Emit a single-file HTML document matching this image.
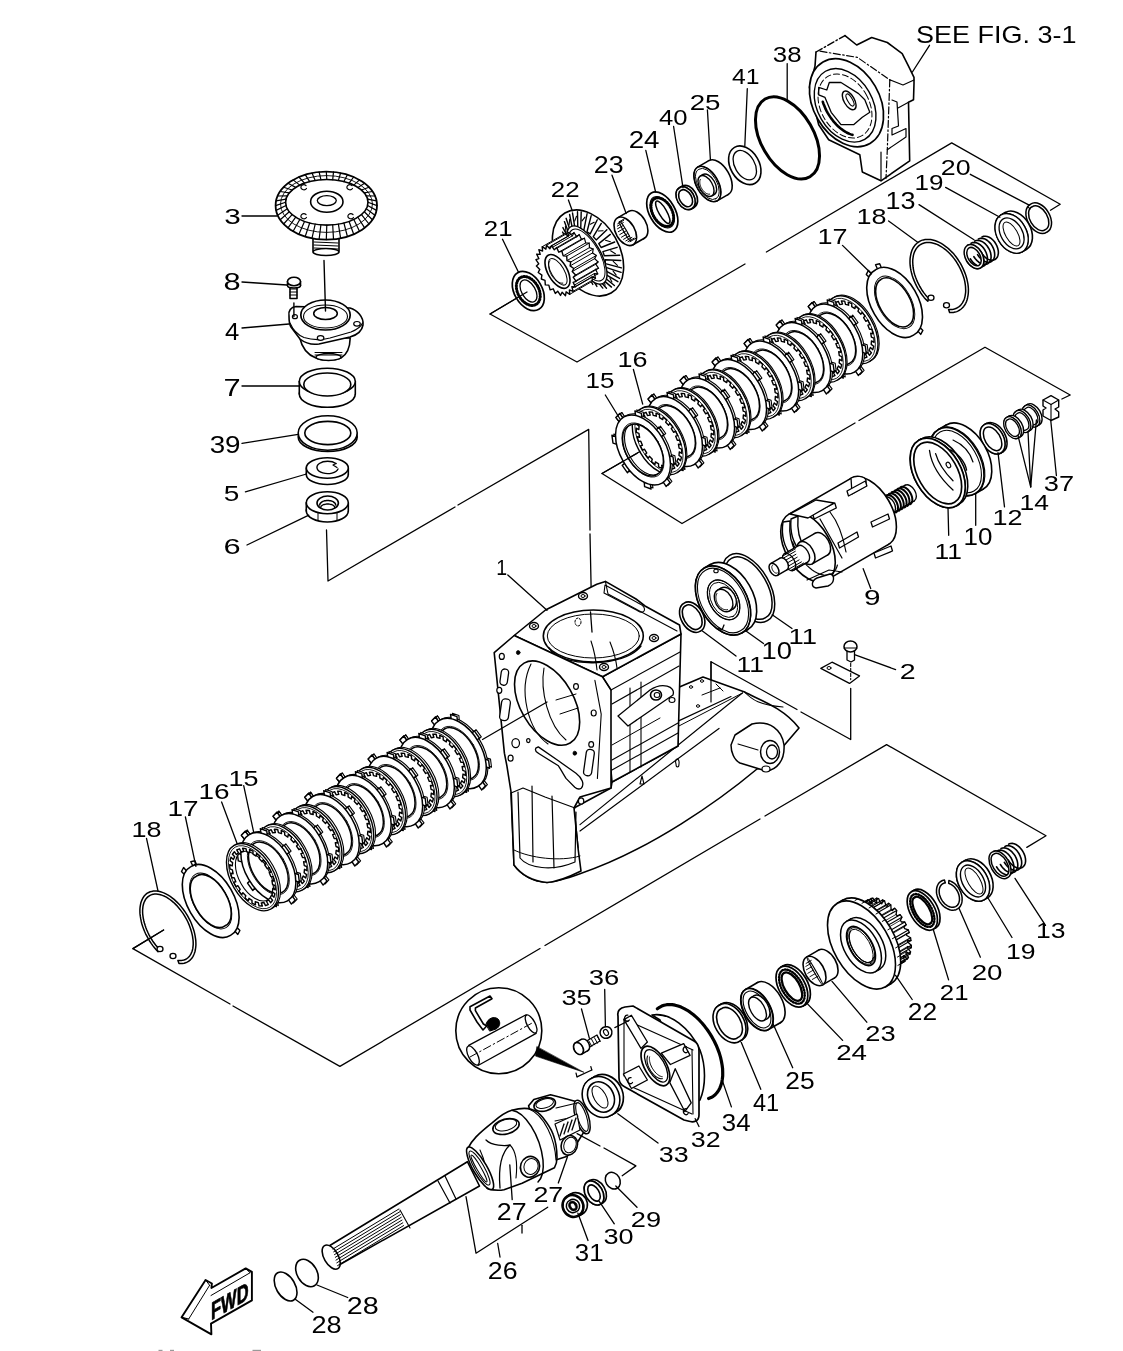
<!DOCTYPE html>
<html><head><meta charset="utf-8"><style>
html,body{margin:0;padding:0;background:#fff;width:1123px;height:1351px;overflow:hidden}
svg{display:block;will-change:transform}
text{font-family:"Liberation Sans",sans-serif;font-size:22px;fill:#000}
</style></head><body>
<svg width="1123" height="1351" viewBox="0 0 1123 1351">
<g fill="none" stroke="#000" stroke-width="1.6" stroke-linejoin="round" stroke-linecap="round">
<g stroke-width="1.3">
<polyline points="326.5,530 328,581 455,507"/>
<polyline points="458,505 588.7,429.4 590,530"/>
<polyline points="590,534 592,630"/>
<polyline points="527,292 490,314 577,362 745,264"/>
<polyline points="766.4,252 951.7,142.9 1060.2,204.3 1050.5,210.2"/>
<polyline points="637.4,453 602,473.5 682,523.5 855,423"/>
<polyline points="859,420.5 985,347.2 1070.2,395 1061.9,399"/>
<polyline points="850.7,688.3 850.7,739.5 801,712"/>
<polyline points="797,709.5 711,661.7 711,702"/>
<polyline points="163.6,930 132.9,948.6 230,1004"/>
<polyline points="233,1006 339.9,1066.4 540,948.5"/>
<polyline points="545,945.5 760,819"/>
<polyline points="765,816 886.6,744.6 1046,835.7 1026.8,847.4"/>
</g>
<polygon points="313,238 339,238 339,251 313,251" fill="#fff"/>
<ellipse cx="326" cy="252" rx="13" ry="3.5" fill="#fff"/>
<polyline points="314,242 338,243" stroke-width="1"/>
<polyline points="314,245 338,246" stroke-width="1"/>
<polyline points="314,248 338,249" stroke-width="1"/>
<ellipse cx="326.3" cy="205.6" rx="50.7" ry="34" fill="#fff" stroke-width="1.8"/>
<ellipse cx="326.8" cy="202.3" rx="41.2" ry="22.8" fill="#fff" stroke-width="1.6"/>
<polyline points="368,202.3 377,205.6" stroke-width="1.2"/>
<polyline points="367.6,205.5 376.5,210.4" stroke-width="1.2"/>
<polyline points="366.3,208.7 374.9,215.2" stroke-width="1.2"/>
<polyline points="364.3,211.8 372.4,219.7" stroke-width="1.2"/>
<polyline points="361.5,214.6 369,224" stroke-width="1.2"/>
<polyline points="357.9,217.2 364.6,227.9" stroke-width="1.2"/>
<polyline points="353.8,219.5 359.5,231.3" stroke-width="1.2"/>
<polyline points="349.1,221.5 353.7,234.2" stroke-width="1.2"/>
<polyline points="343.9,223 347.4,236.5" stroke-width="1.2"/>
<polyline points="338.4,224.2 340.6,238.2" stroke-width="1.2"/>
<polyline points="332.7,224.9 333.5,239.3" stroke-width="1.2"/>
<polyline points="326.8,225.1 326.3,239.6" stroke-width="1.2"/>
<polyline points="320.9,224.9 319.1,239.3" stroke-width="1.2"/>
<polyline points="315.2,224.2 312,238.2" stroke-width="1.2"/>
<polyline points="309.7,223 305.2,236.5" stroke-width="1.2"/>
<polyline points="304.5,221.5 298.9,234.2" stroke-width="1.2"/>
<polyline points="299.8,219.5 293.1,231.3" stroke-width="1.2"/>
<polyline points="295.7,217.2 288,227.9" stroke-width="1.2"/>
<polyline points="292.1,214.6 283.6,224" stroke-width="1.2"/>
<polyline points="289.3,211.8 280.2,219.7" stroke-width="1.2"/>
<polyline points="287.3,208.7 277.7,215.2" stroke-width="1.2"/>
<polyline points="286,205.5 276.1,210.4" stroke-width="1.2"/>
<polyline points="285.6,202.3 275.6,205.6" stroke-width="1.2"/>
<polyline points="286,199.1 276.1,200.8" stroke-width="1.2"/>
<polyline points="287.3,195.9 277.7,196" stroke-width="1.2"/>
<polyline points="289.3,192.8 280.2,191.5" stroke-width="1.2"/>
<polyline points="292.1,190 283.6,187.2" stroke-width="1.2"/>
<polyline points="295.7,187.4 288,183.3" stroke-width="1.2"/>
<polyline points="299.8,185.1 293.1,179.9" stroke-width="1.2"/>
<polyline points="304.5,183.1 298.9,177" stroke-width="1.2"/>
<polyline points="309.7,181.6 305.2,174.7" stroke-width="1.2"/>
<polyline points="315.2,180.4 312,173" stroke-width="1.2"/>
<polyline points="320.9,179.7 319.1,171.9" stroke-width="1.2"/>
<polyline points="326.8,179.5 326.3,171.6" stroke-width="1.2"/>
<polyline points="332.7,179.7 333.5,171.9" stroke-width="1.2"/>
<polyline points="338.4,180.4 340.6,173" stroke-width="1.2"/>
<polyline points="343.9,181.6 347.4,174.7" stroke-width="1.2"/>
<polyline points="349.1,183.1 353.7,177" stroke-width="1.2"/>
<polyline points="353.8,185.1 359.5,179.9" stroke-width="1.2"/>
<polyline points="357.9,187.4 364.6,183.3" stroke-width="1.2"/>
<polyline points="361.5,190 369,187.2" stroke-width="1.2"/>
<polyline points="364.3,192.8 372.4,191.5" stroke-width="1.2"/>
<polyline points="366.3,195.9 374.9,196" stroke-width="1.2"/>
<polyline points="367.6,199.1 376.5,200.8" stroke-width="1.2"/>
<ellipse cx="326.5" cy="204" rx="46" ry="28.4" fill="none" stroke-width="0.9"/>
<ellipse cx="326.8" cy="201.7" rx="16.2" ry="10.5" fill="#fff"/>
<ellipse cx="326.8" cy="200.6" rx="9.5" ry="5" fill="#fff" stroke-width="1.3"/>
<path d="M306 185.5 a3 2.5 0 1 0 0.5 3" fill="none" stroke-width="1.2"/>
<path d="M352 185.5 a3 2.5 0 1 0 0.5 3" fill="none" stroke-width="1.2"/>
<path d="M306 214.5 a3 2.5 0 1 0 0.5 3" fill="none" stroke-width="1.2"/>
<path d="M353 214.5 a3 2.5 0 1 0 0.5 3" fill="none" stroke-width="1.2"/>
<polygon points="290,286 297,286 297,298.5 290,298.5" fill="#fff"/>
<polyline points="290,289 297,289" stroke-width="1"/>
<polyline points="290,292 297,292" stroke-width="1"/>
<polyline points="290,295 297,295" stroke-width="1"/>
<polygon points="287.5,281.5 287.5,285.5 300.5,285.5 300.5,281.5" fill="#fff"/>
<ellipse cx="294" cy="285.5" rx="6.5" ry="2.5" fill="#fff"/>
<ellipse cx="294" cy="281.5" rx="6.5" ry="4.2" fill="#fff"/>
<path d="M299.8 338 C302 348 308 355 316 358 C322 361 334 361 341 358 C348 354 350 346 350.2 338 Z" fill="#fff" stroke-width="1.6"/>
<ellipse cx="328.5" cy="357" rx="12.5" ry="3.5" fill="#fff" stroke-width="1.3"/>
<polyline points="315,352.5 342,352.5" stroke-width="1.0"/>
<polyline points="315,355 342,355" stroke-width="1.0"/>
<path d="M289 316 C288 311 291 307 296 306.5 L350 308 C357 310 364 317 363 325 C362 331 357 335 350 337 L319 344 C312 345 305 343 300 339 L291 327 C289 324 289 320 289 316 Z" fill="#fff" stroke-width="1.6"/>
<path d="M290 323 C293 330 298 335 304 337.5 C312 340 322 340 330 338 L351 332 C356 330 361 327 362.5 323" fill="none" stroke-width="1.1"/>
<ellipse cx="325.5" cy="315" rx="24.7" ry="15" fill="#fff" stroke-width="1.7"/>
<ellipse cx="325.5" cy="316.5" rx="22" ry="11.5" fill="#fff" stroke-width="1.1"/>
<ellipse cx="325.5" cy="313.5" rx="11.8" ry="6" fill="#fff" stroke-width="1.5"/>
<ellipse cx="320.6" cy="338" rx="3.3" ry="2.3" fill="#fff" stroke-width="1.2"/>
<ellipse cx="357" cy="323.8" rx="3.3" ry="2.3" fill="#fff" stroke-width="1.2"/>
<ellipse cx="294.9" cy="316.7" rx="2.5" ry="2" fill="#fff" stroke-width="1.2"/>
<polyline points="324,260.4 325.5,311" stroke-width="1.4"/>
<polyline points="293.9,303 293.9,316.5" stroke-width="1.4"/>
<ellipse cx="327.3" cy="394" rx="28" ry="13.3" fill="#fff"/>
<polygon points="299.3,381.5 355.3,381.5 355.3,394 299.3,394" fill="#fff" stroke="none"/>
<polyline points="299.3,381.5 299.3,394"/>
<polyline points="355.3,381.5 355.3,394"/>
<ellipse cx="327.3" cy="381.5" rx="28" ry="13.3" fill="#fff"/>
<ellipse cx="327.3" cy="384.5" rx="23.5" ry="11.5" fill="#fff"/>
<ellipse cx="327.7" cy="437" rx="29.5" ry="14.5" fill="#fff"/>
<ellipse cx="327.7" cy="433" rx="29.5" ry="17.2" fill="#fff"/>
<ellipse cx="327.8" cy="433" rx="23" ry="11.6" fill="#fff"/>
<ellipse cx="327.3" cy="474.5" rx="21" ry="10" fill="#fff"/>
<polygon points="306.3,468 348.3,468 348.3,474.5 306.3,474.5" fill="#fff" stroke="none"/>
<polyline points="306.3,468 306.3,474.5"/>
<polyline points="348.3,468 348.3,474.5"/>
<ellipse cx="327.3" cy="468" rx="21" ry="10.2" fill="#fff"/>
<path d="M336 463.5 A10.7 6.2 0 1 0 338 469" fill="none" stroke-width="1.4"/>
<polyline points="336,463.5 333,465 337,467.5" stroke-width="1.2"/>
<ellipse cx="327.3" cy="511" rx="21" ry="11" fill="#fff"/>
<polygon points="306.3,502.8 348.3,502.8 348.3,511 306.3,511" fill="#fff" stroke="none"/>
<polyline points="306.3,502.8 306.3,511"/>
<polyline points="348.3,502.8 348.3,511"/>
<polyline points="318,511 318,520" stroke-width="1"/>
<polyline points="337,511 337,520" stroke-width="1"/>
<ellipse cx="327.3" cy="502.8" rx="21" ry="11" fill="#fff"/>
<ellipse cx="327.7" cy="503" rx="10.7" ry="7" fill="#fff"/>
<polyline points="319.7,505 319.8,504.4 320,503.8 320.3,503.3 320.8,502.8 321.4,502.3 322,501.8 322.8,501.4 323.7,501.1 324.6,500.8 325.6,500.7 326.7,500.5 327.7,500.5 328.7,500.5 329.8,500.7 330.8,500.8 331.7,501.1 332.6,501.4 333.4,501.8 334,502.3 334.6,502.8 335.1,503.3 335.4,503.8 335.6,504.4 335.7,505" stroke-width="1.5"/>
<polyline points="320.7,507.5 320.8,507 320.9,506.6 321.2,506.2 321.6,505.8 322.1,505.4 322.8,505 323.4,504.7 324.2,504.5 325,504.3 325.9,504.1 326.8,504 327.7,504 328.6,504 329.5,504.1 330.4,504.3 331.2,504.5 332,504.7 332.6,505 333.3,505.4 333.8,505.8 334.2,506.2 334.5,506.6 334.6,507 334.7,507.5" stroke-width="1.3"/>
<polygon points="816,52 845,35.6 856.7,45 871.7,37.5 887.3,42.5 902.2,53.7 908.5,66.1 914,77.4 914,83.6 913.5,99.8 908.5,102.3 909.7,160.9 881,180.8 862.3,172 859.8,154.7 828.7,139.7 818.7,124.7 809.4,87.3 815,66.1" fill="#fff" stroke="none"/>
<polyline points="816,52 845,35.6" stroke-width="1.4" stroke-dasharray="7 2.5 1.5 2.5"/>
<polyline points="845,35.6 856.7,45 871.7,37.5 887.3,42.5 902.2,53.7 908.5,66.1 914,77.4 914,83.6 913.5,99.8 908.5,102.3 909.7,160.9 881,180.8 862.3,172 859.8,154.7 828.7,139.7 818.7,124.7 809.4,87.3 815,66.1 816,52" stroke-width="1.6"/>
<polyline points="820,51.2 857.4,57.4 889.8,79.9" stroke-width="1.2" stroke-dasharray="7 2.5 1.5 2.5"/>
<polyline points="889.8,79.9 903,85 914,80" stroke-width="1.2"/>
<polyline points="889.8,79.9 887.3,149.7 886,178.3" stroke-width="1.2" stroke-dasharray="7 2.5 1.5 2.5"/>
<polyline points="908.5,102.3 898,108" stroke-width="1.1"/>
<polyline points="892,100 897,102 898.5,126 892,128.5 892,135 906,128.5 906,137 887.3,149.7" stroke-width="1.2"/>
<polyline points="881,152 881,180.8" stroke-width="1.2"/>
<ellipse cx="846.5" cy="102.7" rx="33.1" ry="47" transform="rotate(-30 846.5 102.7)" fill="#fff" stroke-width="1.7"/>
<ellipse cx="845.1" cy="105.3" rx="27.5" ry="39.3" transform="rotate(-30 845.1 105.3)" fill="#fff" stroke-width="1.4"/>
<ellipse cx="845" cy="106" rx="24.1" ry="34.2" transform="rotate(-30 845 106)" fill="none" stroke-width="1.0" stroke-dasharray="6 3"/>
<path d="M818.7 87.3 L826.8 90 L829.3 82.5 L841 82.5 L858.6 93.6 L864.8 99.8 L869.8 112.3 L862.3 117.3 L853.6 124.7 L841 124.7 L831.2 112.3 L825 97.4 L818.7 94.9 Z" fill="none" stroke-width="1.3"/>
<ellipse cx="849.2" cy="100.4" rx="5.2" ry="10.4" transform="rotate(-30 849.2 100.4)" fill="#fff" stroke-width="1.4"/>
<ellipse cx="850" cy="100" rx="2.4" ry="6.8" transform="rotate(-30 850 100)" fill="#fff" stroke-width="1.1"/>
<polyline points="852.5,134.8 851,134.4 849.6,133.9 848.1,133.2 846.6,132.5 845.1,131.6 843.6,130.7 842.2,129.6 840.7,128.5 839.2,127.3 837.8,126 836.4,124.6 835.1,123.1 833.7,121.6 832.5,120 831.2,118.4 830,116.6 828.9,114.9 827.8,113.1 826.8,111.3 825.8,109.4 825,107.5 824.2,105.6 823.4,103.7 822.8,101.8" stroke-width="2.6"/>
<ellipse cx="787.5" cy="137.9" rx="26.4" ry="44.9" transform="rotate(-30 787.5 137.9)" fill="#fff" stroke-width="3"/>
<ellipse cx="744.8" cy="165.3" rx="14.4" ry="20.7" transform="rotate(-30 744.8 165.3)" fill="#fff" stroke-width="1.6"/>
<ellipse cx="744.8" cy="165.2" rx="9.9" ry="16" transform="rotate(-30 744.8 165.2)" fill="#fff" stroke-width="1.3"/>
<ellipse cx="718.7" cy="177.5" rx="10.8" ry="19.5" transform="rotate(-30 718.7 177.5)" fill="#fff" stroke-width="1.6"/>
<polygon points="717.1,200.9 728.4,194.4 708.9,160.6 697.6,167.1" fill="#fff" stroke="none"/>
<polyline points="717.1,200.9 728.4,194.4" stroke-width="1.6"/>
<polyline points="697.6,167.1 708.9,160.6" stroke-width="1.6"/>
<ellipse cx="707.4" cy="184" rx="10.8" ry="19.5" transform="rotate(-30 707.4 184)" fill="#fff" stroke-width="1.6"/>
<path d="M717.1 200.9 A10.8 19.5 -30 1 0 697.6 167.1 A10.8 19.5 -30 1 0 717.1 200.9 Z M715.9 198.7 A9 17 -30 1 0 698.9 169.3 A9 17 -30 1 0 715.9 198.7 Z" fill="none" fill-rule="evenodd" stroke-width="1.0"/>
<ellipse cx="708.6" cy="184.5" rx="6.5" ry="11.5" transform="rotate(-30 708.6 184.5)" fill="#fff" stroke-width="1.4"/>
<polygon points="711.8,196 714.3,194.5 702.8,174.5 700.2,176" fill="#fff" stroke="none"/>
<polyline points="711.8,196 714.3,194.5" stroke-width="1.4"/>
<polyline points="700.2,176 702.8,174.5" stroke-width="1.4"/>
<ellipse cx="706" cy="186" rx="6.5" ry="11.5" transform="rotate(-30 706 186)" fill="#fff" stroke-width="1.4"/>
<polyline points="709.7,194.1 709.1,194.2 708.5,194.2 707.9,194 707.2,193.8 706.5,193.5 705.8,193.1 705.2,192.6 704.5,192.1 703.8,191.4 703.2,190.7 702.6,190 702.1,189.2 701.6,188.3 701.1,187.5 700.7,186.6 700.4,185.7 700.1,184.8 699.9,183.9 699.8,183.1 699.8,182.3 699.8,181.5 699.9,180.8 700,180.1 700.3,179.5" stroke-width="1.0"/>
<ellipse cx="688.2" cy="196.7" rx="8.3" ry="12.1" transform="rotate(-30 688.2 196.7)" fill="#fff" stroke-width="1.7"/>
<polygon points="691.6,208.7 694.2,207.2 682.2,186.2 679.6,187.7" fill="#fff" stroke="none"/>
<polyline points="691.6,208.7 694.2,207.2" stroke-width="1.7"/>
<polyline points="679.6,187.7 682.2,186.2" stroke-width="1.7"/>
<ellipse cx="685.6" cy="198.2" rx="8.3" ry="12.1" transform="rotate(-30 685.6 198.2)" fill="#fff" stroke-width="1.7"/>
<path d="M691.6 208.7 A8.3 12.1 -30 1 0 679.6 187.7 A8.3 12.1 -30 1 0 691.6 208.7 Z M690.1 206.1 A5.8 9.1 -30 1 0 681.1 190.3 A5.8 9.1 -30 1 0 690.1 206.1 Z" fill="#fff" fill-rule="evenodd" stroke-width="1.6"/>
<ellipse cx="662.3" cy="212.1" rx="12.8" ry="22" transform="rotate(-30 662.3 212.1)" fill="#fff" stroke-width="1.7"/>
<ellipse cx="662.2" cy="212.2" rx="10.1" ry="17.2" transform="rotate(-30 662.2 212.2)" fill="#fff" stroke-width="1.0"/>
<ellipse cx="662.8" cy="212.2" rx="3.9" ry="12.7" transform="rotate(-30 662.8 212.2)" fill="#fff" stroke-width="1.5"/>
<ellipse cx="662.3" cy="212.1" rx="9.5" ry="15.5" transform="rotate(-30 662.3 212.1)" fill="none" stroke-width="3" stroke-dasharray="0.9 1.8"/>
<ellipse cx="636.6" cy="224.8" rx="9.5" ry="15.5" transform="rotate(-30 636.6 224.8)" fill="#fff" stroke-width="1.6"/>
<polygon points="633,244.7 644.3,238.2 628.8,211.4 617.5,217.9" fill="#fff" stroke="none"/>
<polyline points="633,244.7 644.3,238.2" stroke-width="1.6"/>
<polyline points="617.5,217.9 628.8,211.4" stroke-width="1.6"/>
<ellipse cx="625.3" cy="231.3" rx="9.5" ry="15.5" transform="rotate(-30 625.3 231.3)" fill="#fff" stroke-width="1.6"/>
<ellipse cx="625.2" cy="231.2" rx="1.4" ry="11.2" transform="rotate(-30 625.2 231.2)" fill="#fff" stroke-width="1.2"/>
<polyline points="630,241.7 636,238.2" stroke-width="1.0"/>
<polyline points="628,241.7 634.1,238.2" stroke-width="1.0"/>
<polyline points="625.8,240.9 631.9,237.4" stroke-width="1.0"/>
<polyline points="623.6,239.3 629.6,235.8" stroke-width="1.0"/>
<polyline points="621.5,237.2 627.5,233.7" stroke-width="1.0"/>
<polyline points="619.7,234.6 625.7,231.1" stroke-width="1.0"/>
<polyline points="618.3,231.7 624.4,228.2" stroke-width="1.0"/>
<polyline points="617.5,228.8 623.5,225.3" stroke-width="1.0"/>
<polyline points="617.3,226.1 623.3,222.6" stroke-width="1.0"/>
<polyline points="617.7,223.8 623.7,220.3" stroke-width="1.0"/>
<polyline points="618.7,222.1 624.7,218.6" stroke-width="1.0"/>
<ellipse cx="588" cy="253" rx="31.3" ry="46.2" transform="rotate(-30 588 253)" fill="#fff" stroke-width="1.6"/>
<polyline points="610.3,234.4 598.8,243.6 601.1,247.5 614.7,242" stroke-width="1.4"/>
<polyline points="605.5,240.2 610.4,241.7" stroke-width="1.1"/>
<polyline points="617.1,247.3 602.9,251.6 604.3,255.7 619.7,255.2" stroke-width="1.4"/>
<polyline points="610.6,250.8 615.4,253.7" stroke-width="1.1"/>
<polyline points="620.8,260.5 605.1,259.8 605.4,263.6 621.4,267.9" stroke-width="1.4"/>
<polyline points="613.2,261.4 617.4,265.3" stroke-width="1.1"/>
<polyline points="621.1,272.4 605.1,267.1 604.3,270.2 619.6,278.4" stroke-width="1.4"/>
<polyline points="613,270.9 616.2,275.1" stroke-width="1.1"/>
<polyline points="617.9,281.7 602.9,272.8 601.1,274.8 614.4,285.5" stroke-width="1.4"/>
<polyline points="609.9,278 611.9,282.1" stroke-width="1.1"/>
<polyline points="611.5,287.1 598.8,276.1 596.2,276.7 606.5,288.2" stroke-width="1.4"/>
<polyline points="604.3,281.9 605.1,285.2" stroke-width="1.1"/>
<polyline points="602.8,288.1 593.3,276.6 590.2,275.7 596.9,286.4" stroke-width="1.4"/>
<polyline points="597,282.2 596.6,284.2" stroke-width="1.1"/>
<polyline points="592.8,284.4 587,274.2 583.8,272.1 586.7,280.2" stroke-width="1.4"/>
<polyline points="588.7,278.7 587.4,279.1" stroke-width="1.1"/>
<polyline points="582.7,276.6 580.7,269.3 577.8,266.1 577.1,270.3" stroke-width="1.4"/>
<polyline points="580.6,272 578.5,270.6" stroke-width="1.1"/>
<polyline points="573.7,265.6 575.2,262.4 572.9,258.5 569.3,258" stroke-width="1.4"/>
<polyline points="573.5,262.8 571.2,259.7" stroke-width="1.1"/>
<polyline points="566.9,252.7 571.1,254.4 569.7,250.3 564.3,244.8" stroke-width="1.4"/>
<polyline points="568.4,252.2 566.2,247.7" stroke-width="1.1"/>
<polyline points="563.2,239.5 568.9,246.2 568.6,242.4 562.6,232.1" stroke-width="1.4"/>
<polyline points="565.8,241.6 564.2,236.1" stroke-width="1.1"/>
<polyline points="562.9,227.6 568.9,238.9 569.7,235.8 564.4,221.6" stroke-width="1.4"/>
<polyline points="566,232.1 565.4,226.3" stroke-width="1.1"/>
<polyline points="566.1,218.3 571.1,233.2 572.9,231.2 569.6,214.5" stroke-width="1.4"/>
<polyline points="569.1,225 569.7,219.3" stroke-width="1.1"/>
<polyline points="572.5,212.9 575.2,229.9 577.8,229.3 577.5,211.8" stroke-width="1.4"/>
<polyline points="574.7,221.1 576.5,216.2" stroke-width="1.1"/>
<polyline points="581.2,211.9 580.7,229.4 583.8,230.3 587.1,213.6" stroke-width="1.4"/>
<polyline points="582,220.8 585,217.2" stroke-width="1.1"/>
<polyline points="591.2,215.6 587,231.8 590.2,233.9 597.3,219.8" stroke-width="1.4"/>
<polyline points="590.3,224.3 594.2,222.3" stroke-width="1.1"/>
<polyline points="601.3,223.4 593.3,236.7 596.2,239.9 606.9,229.7" stroke-width="1.4"/>
<polyline points="598.4,231 603.1,230.8" stroke-width="1.1"/>
<ellipse cx="587" cy="255" rx="13.4" ry="32.6" transform="rotate(-30 587 255)" fill="#fff" stroke-width="1.4"/>
<ellipse cx="587" cy="255" rx="12.2" ry="29.2" transform="rotate(-30 587 255)" fill="none" stroke-width="1.0"/>
<polygon points="593.2,249 592.6,252.9 596.3,255.5 594.7,258.6 598.1,262 595.8,264.2 598.6,268.3 595.6,269.3 597.8,273.9 594.3,273.6 595.6,278.3 591.9,276.9 592.3,281.3 588.6,278.8 588,282.7 584.6,279.2 583.1,282.4 580.2,278.2 577.8,280.4 575.7,275.8 572.6,276.8 571.3,272.1 567.9,271.9 567.5,267.4 563.8,266 564.4,262.1 560.7,259.5 562.3,256.4 558.9,253 561.3,250.8 558.4,246.7 561.4,245.7 559.2,241.1 562.7,241.4 561.4,236.7 565.1,238.1 564.8,233.7 568.4,236.2 569,232.3 572.4,235.8 574,232.6 576.8,236.8 579.2,234.6 581.4,239.2 584.4,238.2 585.7,242.9 589.2,243.1 589.5,247.6" fill="#fff" stroke-width="1.2"/>
<polygon points="569.8,294.3 592.3,281.3 564.8,233.7 542.2,246.7" fill="#fff" stroke="none"/>
<polyline points="570.7,262 593.2,249" stroke-width="1.0"/>
<polyline points="570.1,265.9 592.6,252.9" stroke-width="1.0"/>
<polyline points="573.8,268.5 596.3,255.5" stroke-width="1.0"/>
<polyline points="572.2,271.6 594.7,258.6" stroke-width="1.0"/>
<polyline points="575.6,275 598.1,262" stroke-width="1.0"/>
<polyline points="573.2,277.2 595.8,264.2" stroke-width="1.0"/>
<polyline points="576.1,281.3 598.6,268.3" stroke-width="1.0"/>
<polyline points="573.1,282.3 595.6,269.3" stroke-width="1.0"/>
<polyline points="575.3,286.9 597.8,273.9" stroke-width="1.0"/>
<polyline points="571.8,286.6 594.3,273.6" stroke-width="1.0"/>
<polyline points="573.1,291.3 595.6,278.3" stroke-width="1.0"/>
<polyline points="569.4,289.9 591.9,276.9" stroke-width="1.0"/>
<polyline points="569.8,294.3 592.3,281.3" stroke-width="1.0"/>
<polyline points="542.2,246.7 564.8,233.7" stroke-width="1.0"/>
<polyline points="545.9,249.2 568.4,236.2" stroke-width="1.0"/>
<polyline points="546.5,245.3 569,232.3" stroke-width="1.0"/>
<polyline points="549.9,248.8 572.4,235.8" stroke-width="1.0"/>
<polyline points="551.5,245.6 574,232.6" stroke-width="1.0"/>
<polyline points="554.3,249.8 576.8,236.8" stroke-width="1.0"/>
<polyline points="556.7,247.6 579.2,234.6" stroke-width="1.0"/>
<polyline points="558.8,252.2 581.4,239.2" stroke-width="1.0"/>
<polyline points="561.9,251.2 584.4,238.2" stroke-width="1.0"/>
<polyline points="563.2,255.9 585.7,242.9" stroke-width="1.0"/>
<polyline points="566.7,256.1 589.2,243.1" stroke-width="1.0"/>
<polyline points="567,260.6 589.5,247.6" stroke-width="1.0"/>
<polygon points="570.7,262 570.1,265.9 573.8,268.5 572.2,271.6 575.6,275 573.2,277.2 576.1,281.3 573.1,282.3 575.3,286.9 571.8,286.6 573.1,291.3 569.4,289.9 569.8,294.3 566.1,291.8 565.5,295.7 562.1,292.2 560.5,295.4 557.7,291.2 555.3,293.4 553.2,288.8 550.1,289.8 548.8,285.1 545.3,284.9 545,280.4 541.3,279 541.9,275.1 538.2,272.5 539.8,269.4 536.4,266 538.8,263.8 535.9,259.7 538.9,258.7 536.7,254.1 540.2,254.4 538.9,249.7 542.6,251.1 542.2,246.7 545.9,249.2 546.5,245.3 549.9,248.8 551.5,245.6 554.3,249.8 556.7,247.6 558.8,252.2 561.9,251.2 563.2,255.9 566.7,256.1 567,260.6" fill="#fff" stroke-width="1.4"/>
<ellipse cx="557.5" cy="271.4" rx="9.6" ry="18.7" transform="rotate(-30 557.5 271.4)" fill="#fff" stroke-width="1.6"/>
<ellipse cx="557.8" cy="271.8" rx="6.4" ry="14.9" transform="rotate(-30 557.8 271.8)" fill="none" stroke-width="1.0"/>
<polyline points="562.8,283.1 562,283.2 561.1,283.1 560.1,282.9 559.1,282.5 558.1,282 557,281.3 556,280.5 555,279.6 554,278.5 553.1,277.4 552.2,276.2 551.4,274.9 550.7,273.6 550.1,272.2 549.6,270.8 549.2,269.5 548.9,268.1 548.7,266.8 548.6,265.6 548.7,264.5 548.8,263.4 549.1,262.4 549.5,261.6 550,260.9" stroke-width="1.0"/>
<ellipse cx="528.3" cy="291" rx="13.9" ry="21.2" transform="rotate(-30 528.3 291)" fill="#fff" stroke-width="1.7"/>
<ellipse cx="528.3" cy="291" rx="10.5" ry="15.5" transform="rotate(-30 528.3 291)" fill="none" stroke-width="3" stroke-dasharray="0.9 1.8"/>
<ellipse cx="528.5" cy="291" rx="6.9" ry="12.1" transform="rotate(-30 528.5 291)" fill="#fff" stroke-width="1.3"/>
<path d="M1046.8 232.2 A10.7 16.2 -30 1 0 1030.6 204.2 A10.7 16.2 -30 1 0 1046.8 232.2 Z M1045.3 229.6 A8.2 13.2 -30 1 0 1032.1 206.8 A8.2 13.2 -30 1 0 1045.3 229.6 Z" fill="#fff" fill-rule="evenodd" stroke-width="1.5"/>
<polyline points="1027.9,206.9 1030.1,208.9" stroke-width="1.2"/>
<ellipse cx="1015.9" cy="230.9" rx="14.7" ry="21.2" transform="rotate(-30 1015.9 230.9)" fill="#fff" stroke-width="1.6"/>
<polygon points="1022.2,251.8 1026.5,249.3 1005.3,212.5 1001,215" fill="#fff" stroke="none"/>
<polyline points="1022.2,251.8 1026.5,249.3" stroke-width="1.6"/>
<polyline points="1001,215 1005.3,212.5" stroke-width="1.6"/>
<ellipse cx="1011.6" cy="233.4" rx="14.7" ry="21.2" transform="rotate(-30 1011.6 233.4)" fill="#fff" stroke-width="1.6"/>
<path d="M1022.2 251.8 A14.7 21.2 -30 1 0 1001 215 A14.7 21.2 -30 1 0 1022.2 251.8 Z M1020 247.9 A10.7 16.7 -30 1 0 1003.2 218.9 A10.7 16.7 -30 1 0 1020 247.9 Z" fill="#fff" fill-rule="evenodd" stroke-width="1.3"/>
<ellipse cx="1011.5" cy="234" rx="6" ry="13.4" transform="rotate(-30 1011.5 234)" fill="none" stroke-width="1"/>
<polyline points="982,236.9 983.6,236.3 985.4,236.2 987.2,236.5 989.2,237.2 991.1,238.4 992.9,240 994.5,241.8 995.9,244 997,246.2 997.8,248.6 998.3,250.9 998.4,253.2 998,255.2 997.4,257 996.4,258.4 995,259.5 993.5,260.1 991.7,260.2 989.9,259.9 987.9,259.2 986,258 984.2,256.4 982.6,254.6 981.2,252.5" stroke-width="1.6"/>
<polyline points="978.4,239 980,238.4 981.7,238.3 983.6,238.6 985.5,239.3 987.4,240.5 989.2,242.1 990.9,243.9 992.3,246.1 993.4,248.3 994.2,250.7 994.6,253 994.7,255.3 994.4,257.3 993.7,259.1 992.7,260.5 991.4,261.6 989.9,262.2 988.1,262.3 986.2,262 984.3,261.3 982.4,260.1 980.6,258.5 979,256.7 977.6,254.6" stroke-width="1.6"/>
<polyline points="974.8,241.1 976.3,240.5 978.1,240.4 980,240.7 981.9,241.4 983.8,242.6 985.6,244.2 987.2,246 988.6,248.2 989.8,250.4 990.6,252.8 991,255.1 991.1,257.4 990.8,259.4 990.1,261.2 989.1,262.6 987.8,263.7 986.2,264.3 984.5,264.4 982.6,264.1 980.7,263.4 978.8,262.2 977,260.6 975.3,258.8 973.9,256.7" stroke-width="1.6"/>
<polyline points="971.1,243.2 972.7,242.6 974.4,242.5 976.3,242.8 978.2,243.5 980.1,244.7 982,246.3 983.6,248.1 985,250.3 986.1,252.5 986.9,254.9 987.4,257.2 987.4,259.5 987.1,261.5 986.5,263.3 985.4,264.7 984.1,265.8 982.6,266.4 980.8,266.5 979,266.2 977,265.5 975.1,264.3 973.3,262.7 971.7,260.9 970.3,258.8" stroke-width="1.6"/>
<polyline points="967.5,245.3 969.1,244.7 970.8,244.6 972.7,244.9 974.6,245.6 976.5,246.8 978.3,248.4 980,250.2 981.4,252.4 982.5,254.6 983.3,257 983.7,259.3 983.8,261.6 983.5,263.6 982.8,265.4 981.8,266.8 980.5,267.9 978.9,268.5 977.2,268.6 975.3,268.3 973.4,267.6 971.5,266.4 969.7,264.8 968,263 966.6,260.9" stroke-width="1.6"/>
<path d="M980.5 267.9 A8.5 13 -30 1 0 967.5 245.3 A8.5 13 -30 1 0 980.5 267.9 Z M979 265.3 A6 10 -30 1 0 969 247.9 A6 10 -30 1 0 979 265.3 Z" fill="#fff" fill-rule="evenodd" stroke-width="1.5"/>
<polygon points="927.8,301.3 925.9,299.4 924.1,297.4 922.4,295.2 920.8,293 919.3,290.7 917.8,288.3 916.5,285.9 915.3,283.4 914.2,280.9 913.2,278.4 912.3,275.8 911.6,273.3 911,270.7 910.5,268.2 910.2,265.7 910,263.3 910,260.9 910.1,258.7 910.4,256.4 910.8,254.3 911.3,252.3 911.9,250.4 912.7,248.7 913.7,247 914.7,245.6 915.9,244.2 917.2,243 918.6,242 920.1,241.1 921.6,240.4 923.3,239.9 925.1,239.6 926.9,239.4 928.8,239.4 930.7,239.6 932.7,240 934.7,240.5 936.7,241.2 938.7,242.1 940.8,243.2 942.8,244.4 944.8,245.8 946.8,247.3 948.7,248.9 950.6,250.7 952.5,252.6 954.3,254.6 956,256.8 957.6,259 959.1,261.3 960.6,263.7 961.9,266.1 963.1,268.6 964.2,271.1 965.2,273.6 966.1,276.2 966.8,278.7 967.4,281.3 967.9,283.8 968.2,286.3 968.4,288.7 968.4,291.1 968.3,293.3 968,295.6 967.6,297.7 967.1,299.7 966.5,301.6 965.7,303.3 964.7,305 963.7,306.4 962.5,307.8 961.2,309 959.8,310 958.3,310.9 956.8,311.6 955.1,312.1 953.3,312.4 951.5,312.6 949.6,312.6 948.6,309.5 950.3,309.6 951.9,309.5 953.5,309.2 955,308.8 956.5,308.2 957.8,307.5 959.1,306.6 960.3,305.6 961.3,304.4 962.3,303.1 963.1,301.6 963.9,300.1 964.5,298.4 965,296.6 965.3,294.7 965.6,292.7 965.7,290.6 965.6,288.5 965.5,286.3 965.2,284 964.8,281.7 964.3,279.4 963.6,277 962.8,274.7 961.9,272.4 960.9,270.1 959.8,267.8 958.6,265.5 957.3,263.3 956,261.2 954.5,259.1 952.9,257.1 951.3,255.2 949.7,253.5 947.9,251.8 946.2,250.2 944.4,248.8 942.5,247.5 940.7,246.3 938.9,245.3 937,244.4 935.2,243.7 933.4,243.2 931.6,242.8 929.8,242.5 928.1,242.4 926.5,242.5 924.9,242.8 923.4,243.2 921.9,243.8 920.6,244.5 919.3,245.4 918.1,246.4 917.1,247.6 916.1,248.9 915.3,250.4 914.5,251.9 913.9,253.6 913.4,255.4 913.1,257.3 912.8,259.3 912.7,261.4 912.8,263.5 912.9,265.7 913.2,268 913.6,270.3 914.1,272.6 914.8,275 915.6,277.3 916.5,279.6 917.5,281.9 918.6,284.2 919.8,286.5 921.1,288.7 922.4,290.8 923.9,292.9 925.5,294.9 927.1,296.8 928.7,298.5" fill="#fff" stroke-width="1.5"/>
<ellipse cx="931" cy="297.7" rx="3" ry="2.6" fill="#fff" stroke-width="1.3"/>
<ellipse cx="946.5" cy="305.2" rx="3" ry="2.6" fill="#fff" stroke-width="1.3"/>
<polygon points="871.8,280.1 866.3,274.4 868.5,270.4 873.7,276.5" fill="#fff" stroke-width="1.4"/>
<polygon points="879.1,272.2 875.5,264.8 879.7,263.8 882.8,271.3" fill="#fff" stroke-width="1.4"/>
<polygon points="917.4,324.7 922.9,330.4 920.7,334.4 915.5,328.3" fill="#fff" stroke-width="1.4"/>
<path d="M913.5 335.1 A22.4 37.8 -30 1 0 875.7 269.7 A22.4 37.8 -30 1 0 913.5 335.1 Z M908 325.6 A15 26.8 -30 1 0 881.2 279.2 A15 26.8 -30 1 0 908 325.6 Z" fill="#fff" fill-rule="evenodd" stroke-width="1.6"/>
<ellipse cx="894.6" cy="302.4" rx="16.4" ry="28.8" transform="rotate(-30 894.6 302.4)" fill="none" stroke-width="0.9"/>
<ellipse cx="853.2" cy="328.6" rx="21.3" ry="36.7" transform="rotate(-30 853.2 328.6)" fill="#fff" stroke-width="1.1"/>
<path d="M869.6 361.5 A21.3 36.7 -30 1 0 832.9 298 A21.3 36.7 -30 1 0 869.6 361.5 Z M867.8 320.2 L870 324.6 L867.9 325.2 L869.5 329.2 L871.8 329.1 L873.1 333.7 L870.7 333.2 L871.4 337.2 L873.9 338.1 L874.1 342.3 L871.5 340.9 L871.2 344.4 L873.7 346.2 L872.8 349.7 L870.4 347.5 L869.1 350.2 L871.4 352.8 L869.4 355.2 L867.4 352.4 L865.3 354 L867 357 L864.3 358.2 L862.8 355 L860.1 355.4 L861.2 358.6 L857.8 358.4 L857.1 355.2 L854 354.3 L854.3 357.4 L850.8 355.8 L850.8 352.9 L847.6 350.9 L847.2 353.5 L843.7 350.6 L844.6 348.3 L841.7 345.3 L840.5 347.2 L837.5 343.4 L839 341.9 L836.6 338.2 L834.8 339.3 L832.5 334.9 L834.6 334.3 L833 330.3 L830.7 330.4 L829.4 325.8 L831.9 326.3 L831.2 322.3 L828.7 321.4 L828.5 317.2 L831 318.6 L831.3 315.1 L828.8 313.3 L829.8 309.8 L832.1 312 L833.4 309.3 L831.2 306.7 L833.1 304.3 L835.2 307.1 L837.3 305.5 L835.5 302.5 L838.3 301.3 L839.7 304.5 L842.5 304.1 L841.4 300.9 L844.7 301.1 L845.5 304.3 L848.6 305.2 L848.2 302.1 L851.8 303.7 L851.7 306.6 L854.9 308.6 L855.4 306 L858.8 308.9 L858 311.2 L860.9 314.2 L862.1 312.3 L865.1 316.1 L863.6 317.6 L865.9 321.3 Z" fill="#fff" fill-rule="evenodd" stroke-width="1.4"/>
<ellipse cx="851.3" cy="329.8" rx="19.3" ry="34.7" transform="rotate(-30 851.3 329.8)" fill="none" stroke-width="0.8"/>
<polygon points="815.6,312.4 810.2,305.5 814.1,301.5 819,308.8" fill="#fff" stroke-width="1.1"/>
<polygon points="830.4,306.8 829.1,298.9 835.6,301.2 836.2,308.8" fill="#fff" stroke-width="1.1"/>
<polygon points="849.3,319.5 852.7,315.1 858,322.5 854,325.9" fill="#fff" stroke-width="1.1"/>
<polygon points="861,342.9 867.2,344.7 868.2,352.7 861.9,350.1" fill="#fff" stroke-width="1.1"/>
<polygon points="858.8,363.4 864.1,370.3 860.2,374.3 855.3,367" fill="#fff" stroke-width="1.1"/>
<polygon points="843.9,369 845.2,376.9 838.7,374.6 838.1,367" fill="#fff" stroke-width="1.1"/>
<polygon points="825.1,356.3 821.6,360.7 816.3,353.3 820.4,349.9" fill="#fff" stroke-width="1.1"/>
<polygon points="813.3,332.9 807.1,331.1 806.1,323.1 812.4,325.7" fill="#fff" stroke-width="1.1"/>
<polygon points="815.6,312.4 810.2,305.5 814.1,301.5 819,308.8" fill="#fff" stroke-width="1.1"/>
<ellipse cx="837.2" cy="337.9" rx="22.8" ry="38.2" transform="rotate(-30 837.2 337.9)" fill="#fff" stroke-width="1.1"/>
<polygon points="813.7,313.5 808.3,306.6 812.2,302.6 817.1,309.9" fill="#fff" stroke-width="1.4"/>
<polygon points="828.5,307.9 827.2,300 833.7,302.3 834.3,309.9" fill="#fff" stroke-width="1.4"/>
<polygon points="847.4,320.6 850.8,316.2 856.1,323.6 852.1,327" fill="#fff" stroke-width="1.4"/>
<polygon points="859.1,344 865.3,345.8 866.3,353.8 860,351.2" fill="#fff" stroke-width="1.4"/>
<polygon points="856.9,364.5 862.2,371.4 858.3,375.4 853.4,368.1" fill="#fff" stroke-width="1.4"/>
<polygon points="842,370.1 843.3,378 836.8,375.7 836.2,368.1" fill="#fff" stroke-width="1.4"/>
<polygon points="823.2,357.4 819.7,361.8 814.4,354.4 818.5,351" fill="#fff" stroke-width="1.4"/>
<polygon points="811.4,334 805.2,332.2 804.2,324.2 810.5,326.8" fill="#fff" stroke-width="1.4"/>
<polygon points="813.7,313.5 808.3,306.6 812.2,302.6 817.1,309.9" fill="#fff" stroke-width="1.4"/>
<path d="M854.4 372.1 A22.8 38.2 -30 1 0 816.2 305.9 A22.8 38.2 -30 1 0 854.4 372.1 Z M849.4 363.4 A16.2 28.2 -30 1 0 821.2 314.6 A16.2 28.2 -30 1 0 849.4 363.4 Z" fill="#fff" fill-rule="evenodd" stroke-width="1.5"/>
<ellipse cx="835.3" cy="339" rx="17.2" ry="29.7" transform="rotate(-30 835.3 339)" fill="none" stroke-width="0.8"/>
<ellipse cx="821.1" cy="347.1" rx="21.3" ry="36.7" transform="rotate(-30 821.1 347.1)" fill="#fff" stroke-width="1.1"/>
<path d="M837.6 380 A21.3 36.7 -30 1 0 800.9 316.5 A21.3 36.7 -30 1 0 837.6 380 Z M835.7 338.7 L838 343.1 L835.9 343.7 L837.5 347.7 L839.8 347.6 L841.1 352.2 L838.7 351.7 L839.3 355.7 L841.8 356.6 L842 360.8 L839.5 359.4 L839.2 362.9 L841.7 364.7 L840.8 368.2 L838.4 366 L837.1 368.7 L839.3 371.3 L837.4 373.7 L835.4 370.9 L833.2 372.5 L835 375.5 L832.2 376.7 L830.8 373.5 L828 373.9 L829.1 377.1 L825.8 376.9 L825.1 373.7 L821.9 372.8 L822.3 375.9 L818.7 374.3 L818.8 371.4 L815.6 369.4 L815.2 372 L811.7 369.1 L812.5 366.8 L809.6 363.8 L808.4 365.7 L805.4 361.9 L806.9 360.4 L804.6 356.7 L802.7 357.8 L800.5 353.4 L802.6 352.8 L801 348.8 L798.7 348.9 L797.4 344.3 L799.8 344.8 L799.1 340.8 L796.6 339.9 L796.4 335.7 L799 337.1 L799.3 333.6 L796.8 331.8 L797.7 328.3 L800.1 330.5 L801.4 327.8 L799.2 325.2 L801.1 322.8 L803.1 325.6 L805.2 324 L803.5 321 L806.3 319.8 L807.7 323 L810.5 322.6 L809.4 319.4 L812.7 319.6 L813.4 322.8 L816.5 323.7 L816.2 320.6 L819.8 322.2 L819.7 325.1 L822.9 327.1 L823.3 324.5 L826.8 327.4 L825.9 329.7 L828.9 332.7 L830.1 330.8 L833.1 334.6 L831.5 336.1 L833.9 339.8 Z" fill="#fff" fill-rule="evenodd" stroke-width="1.4"/>
<ellipse cx="819.2" cy="348.2" rx="19.3" ry="34.7" transform="rotate(-30 819.2 348.2)" fill="none" stroke-width="0.8"/>
<polygon points="783.5,330.9 778.2,324 782,320 786.9,327.3" fill="#fff" stroke-width="1.1"/>
<polygon points="798.4,325.3 797,317.4 803.5,319.7 804.2,327.3" fill="#fff" stroke-width="1.1"/>
<polygon points="817.2,338 820.6,333.6 826,341 821.9,344.4" fill="#fff" stroke-width="1.1"/>
<polygon points="828.9,361.4 835.2,363.2 836.2,371.2 829.9,368.6" fill="#fff" stroke-width="1.1"/>
<polygon points="826.7,381.9 832.1,388.8 828.2,392.8 823.3,385.5" fill="#fff" stroke-width="1.1"/>
<polygon points="811.8,387.5 813.2,395.4 806.7,393.1 806.1,385.5" fill="#fff" stroke-width="1.1"/>
<polygon points="793,374.8 789.6,379.2 784.3,371.8 788.3,368.4" fill="#fff" stroke-width="1.1"/>
<polygon points="781.3,351.4 775.1,349.6 774.1,341.6 780.4,344.2" fill="#fff" stroke-width="1.1"/>
<polygon points="783.5,330.9 778.2,324 782,320 786.9,327.3" fill="#fff" stroke-width="1.1"/>
<ellipse cx="805.1" cy="356.4" rx="22.8" ry="38.2" transform="rotate(-30 805.1 356.4)" fill="#fff" stroke-width="1.1"/>
<polygon points="781.6,332 776.3,325.1 780.1,321.1 785,328.4" fill="#fff" stroke-width="1.4"/>
<polygon points="796.5,326.4 795.1,318.5 801.6,320.8 802.2,328.4" fill="#fff" stroke-width="1.4"/>
<polygon points="815.3,339.1 818.7,334.7 824.1,342.1 820,345.5" fill="#fff" stroke-width="1.4"/>
<polygon points="827,362.5 833.2,364.3 834.3,372.3 827.9,369.7" fill="#fff" stroke-width="1.4"/>
<polygon points="824.8,383 830.2,389.9 826.3,393.9 821.4,386.6" fill="#fff" stroke-width="1.4"/>
<polygon points="809.9,388.6 811.3,396.5 804.8,394.2 804.2,386.6" fill="#fff" stroke-width="1.4"/>
<polygon points="791.1,375.9 787.7,380.3 782.4,372.9 786.4,369.5" fill="#fff" stroke-width="1.4"/>
<polygon points="779.4,352.5 773.2,350.7 772.2,342.7 778.5,345.3" fill="#fff" stroke-width="1.4"/>
<polygon points="781.6,332 776.3,325.1 780.1,321.1 785,328.4" fill="#fff" stroke-width="1.4"/>
<path d="M822.3 390.6 A22.8 38.2 -30 1 0 784.1 324.4 A22.8 38.2 -30 1 0 822.3 390.6 Z M817.3 381.9 A16.2 28.2 -30 1 0 789.1 333.1 A16.2 28.2 -30 1 0 817.3 381.9 Z" fill="#fff" fill-rule="evenodd" stroke-width="1.5"/>
<ellipse cx="803.2" cy="357.5" rx="17.2" ry="29.7" transform="rotate(-30 803.2 357.5)" fill="none" stroke-width="0.8"/>
<ellipse cx="789.1" cy="365.6" rx="21.3" ry="36.7" transform="rotate(-30 789.1 365.6)" fill="#fff" stroke-width="1.1"/>
<path d="M805.5 398.5 A21.3 36.7 -30 1 0 768.8 335 A21.3 36.7 -30 1 0 805.5 398.5 Z M803.7 357.2 L805.9 361.6 L803.9 362.2 L805.5 366.2 L807.7 366.1 L809 370.7 L806.6 370.2 L807.3 374.2 L809.8 375.1 L810 379.3 L807.5 377.9 L807.1 381.4 L809.6 383.2 L808.7 386.7 L806.3 384.5 L805 387.2 L807.3 389.8 L805.3 392.2 L803.3 389.4 L801.2 391 L802.9 394 L800.2 395.2 L798.7 392 L796 392.4 L797.1 395.6 L793.7 395.4 L793 392.2 L789.9 391.3 L790.2 394.4 L786.7 392.8 L786.7 389.9 L783.6 387.9 L783.1 390.5 L779.6 387.6 L780.5 385.3 L777.6 382.3 L776.4 384.2 L773.4 380.4 L774.9 378.9 L772.5 375.2 L770.7 376.3 L768.4 371.9 L770.5 371.3 L768.9 367.3 L766.6 367.4 L765.3 362.8 L767.8 363.3 L767.1 359.3 L764.6 358.4 L764.4 354.2 L766.9 355.6 L767.2 352.1 L764.8 350.3 L765.7 346.8 L768.1 349 L769.3 346.3 L767.1 343.7 L769.1 341.3 L771.1 344.1 L773.2 342.5 L771.4 339.5 L774.2 338.3 L775.7 341.5 L778.4 341.1 L777.3 337.9 L780.6 338.1 L781.4 341.3 L784.5 342.2 L784.1 339.1 L787.7 340.7 L787.7 343.6 L790.8 345.6 L791.3 343 L794.7 345.9 L793.9 348.2 L796.8 351.2 L798 349.3 L801 353.1 L799.5 354.6 L801.9 358.3 Z" fill="#fff" fill-rule="evenodd" stroke-width="1.4"/>
<ellipse cx="787.2" cy="366.8" rx="19.3" ry="34.7" transform="rotate(-30 787.2 366.8)" fill="none" stroke-width="0.8"/>
<polygon points="751.5,349.4 746.1,342.5 750,338.5 754.9,345.8" fill="#fff" stroke-width="1.1"/>
<polygon points="766.4,343.8 765,335.9 771.5,338.2 772.1,345.8" fill="#fff" stroke-width="1.1"/>
<polygon points="785.2,356.5 788.6,352.1 793.9,359.5 789.9,362.9" fill="#fff" stroke-width="1.1"/>
<polygon points="796.9,379.9 803.1,381.7 804.1,389.7 797.8,387.1" fill="#fff" stroke-width="1.1"/>
<polygon points="794.7,400.4 800,407.3 796.2,411.3 791.2,404" fill="#fff" stroke-width="1.1"/>
<polygon points="779.8,406 781.2,413.9 774.7,411.6 774,404" fill="#fff" stroke-width="1.1"/>
<polygon points="761,393.3 757.6,397.7 752.2,390.3 756.3,386.9" fill="#fff" stroke-width="1.1"/>
<polygon points="749.3,369.9 743,368.1 742,360.1 748.3,362.7" fill="#fff" stroke-width="1.1"/>
<polygon points="751.5,349.4 746.1,342.5 750,338.5 754.9,345.8" fill="#fff" stroke-width="1.1"/>
<ellipse cx="773.1" cy="374.9" rx="22.8" ry="38.2" transform="rotate(-30 773.1 374.9)" fill="#fff" stroke-width="1.1"/>
<polygon points="749.6,350.5 744.2,343.6 748.1,339.6 753,346.9" fill="#fff" stroke-width="1.4"/>
<polygon points="764.5,344.9 763.1,337 769.6,339.3 770.2,346.9" fill="#fff" stroke-width="1.4"/>
<polygon points="783.3,357.6 786.7,353.2 792,360.6 788,364" fill="#fff" stroke-width="1.4"/>
<polygon points="795,381 801.2,382.8 802.2,390.8 795.9,388.2" fill="#fff" stroke-width="1.4"/>
<polygon points="792.8,401.5 798.1,408.4 794.3,412.4 789.3,405.1" fill="#fff" stroke-width="1.4"/>
<polygon points="777.9,407.1 779.3,415 772.8,412.7 772.1,405.1" fill="#fff" stroke-width="1.4"/>
<polygon points="759.1,394.4 755.7,398.8 750.3,391.4 754.4,388" fill="#fff" stroke-width="1.4"/>
<polygon points="747.4,371 741.1,369.2 740.1,361.2 746.4,363.8" fill="#fff" stroke-width="1.4"/>
<polygon points="749.6,350.5 744.2,343.6 748.1,339.6 753,346.9" fill="#fff" stroke-width="1.4"/>
<path d="M790.3 409.1 A22.8 38.2 -30 1 0 752.1 342.9 A22.8 38.2 -30 1 0 790.3 409.1 Z M785.3 400.4 A16.2 28.2 -30 1 0 757.1 351.6 A16.2 28.2 -30 1 0 785.3 400.4 Z" fill="#fff" fill-rule="evenodd" stroke-width="1.5"/>
<ellipse cx="771.2" cy="376" rx="17.2" ry="29.7" transform="rotate(-30 771.2 376)" fill="none" stroke-width="0.8"/>
<ellipse cx="757.1" cy="384.1" rx="21.3" ry="36.7" transform="rotate(-30 757.1 384.1)" fill="#fff" stroke-width="1.1"/>
<path d="M773.5 417 A21.3 36.7 -30 1 0 736.8 353.5 A21.3 36.7 -30 1 0 773.5 417 Z M771.6 375.7 L773.9 380.1 L771.8 380.7 L773.4 384.7 L775.7 384.6 L777 389.2 L774.6 388.7 L775.2 392.7 L777.8 393.6 L778 397.8 L775.4 396.4 L775.1 399.9 L777.6 401.7 L776.7 405.2 L774.3 403 L773 405.7 L775.2 408.3 L773.3 410.7 L771.3 407.9 L769.2 409.5 L770.9 412.5 L768.1 413.7 L766.7 410.5 L763.9 410.9 L765 414.1 L761.7 413.9 L761 410.7 L757.9 409.8 L758.2 412.9 L754.6 411.3 L754.7 408.4 L751.5 406.4 L751.1 409 L747.6 406.1 L748.4 403.8 L745.5 400.8 L744.3 402.7 L741.3 398.9 L742.9 397.4 L740.5 393.7 L738.7 394.8 L736.4 390.4 L738.5 389.8 L736.9 385.8 L734.6 385.9 L733.3 381.3 L735.7 381.8 L735.1 377.8 L732.5 376.9 L732.4 372.7 L734.9 374.1 L735.2 370.6 L732.7 368.8 L733.6 365.3 L736 367.5 L737.3 364.8 L735.1 362.2 L737 359.8 L739 362.6 L741.1 361 L739.4 358 L742.2 356.8 L743.6 360 L746.4 359.6 L745.3 356.4 L748.6 356.6 L749.3 359.8 L752.4 360.7 L752.1 357.6 L755.7 359.2 L755.6 362.1 L758.8 364.1 L759.2 361.5 L762.7 364.4 L761.9 366.7 L764.8 369.7 L766 367.8 L769 371.6 L767.4 373.1 L769.8 376.8 Z" fill="#fff" fill-rule="evenodd" stroke-width="1.4"/>
<ellipse cx="755.2" cy="385.2" rx="19.3" ry="34.7" transform="rotate(-30 755.2 385.2)" fill="none" stroke-width="0.8"/>
<polygon points="719.4,367.9 714.1,361 718,357 722.9,364.3" fill="#fff" stroke-width="1.1"/>
<polygon points="734.3,362.3 732.9,354.4 739.5,356.7 740.1,364.3" fill="#fff" stroke-width="1.1"/>
<polygon points="753.1,375 756.6,370.6 761.9,378 757.8,381.4" fill="#fff" stroke-width="1.1"/>
<polygon points="764.9,398.4 771.1,400.2 772.1,408.2 765.8,405.6" fill="#fff" stroke-width="1.1"/>
<polygon points="762.6,418.9 768,425.8 764.1,429.8 759.2,422.5" fill="#fff" stroke-width="1.1"/>
<polygon points="747.7,424.5 749.1,432.4 742.6,430.1 742,422.5" fill="#fff" stroke-width="1.1"/>
<polygon points="728.9,411.8 725.5,416.2 720.2,408.8 724.2,405.4" fill="#fff" stroke-width="1.1"/>
<polygon points="717.2,388.4 711,386.6 710,378.6 716.3,381.2" fill="#fff" stroke-width="1.1"/>
<polygon points="719.4,367.9 714.1,361 718,357 722.9,364.3" fill="#fff" stroke-width="1.1"/>
<ellipse cx="741" cy="393.4" rx="22.8" ry="38.2" transform="rotate(-30 741 393.4)" fill="#fff" stroke-width="1.1"/>
<polygon points="717.5,369 712.2,362.1 716,358.1 721,365.4" fill="#fff" stroke-width="1.4"/>
<polygon points="732.4,363.4 731,355.5 737.5,357.8 738.2,365.4" fill="#fff" stroke-width="1.4"/>
<polygon points="751.2,376.1 754.6,371.7 760,379.1 755.9,382.5" fill="#fff" stroke-width="1.4"/>
<polygon points="763,399.5 769.2,401.3 770.2,409.3 763.9,406.7" fill="#fff" stroke-width="1.4"/>
<polygon points="760.7,420 766.1,426.9 762.2,430.9 757.3,423.6" fill="#fff" stroke-width="1.4"/>
<polygon points="745.8,425.6 747.2,433.5 740.7,431.2 740.1,423.6" fill="#fff" stroke-width="1.4"/>
<polygon points="727,412.9 723.6,417.3 718.3,409.9 722.3,406.5" fill="#fff" stroke-width="1.4"/>
<polygon points="715.3,389.5 709.1,387.7 708.1,379.7 714.4,382.3" fill="#fff" stroke-width="1.4"/>
<polygon points="717.5,369 712.2,362.1 716,358.1 721,365.4" fill="#fff" stroke-width="1.4"/>
<path d="M758.2 427.6 A22.8 38.2 -30 1 0 720 361.4 A22.8 38.2 -30 1 0 758.2 427.6 Z M753.2 418.9 A16.2 28.2 -30 1 0 725 370.1 A16.2 28.2 -30 1 0 753.2 418.9 Z" fill="#fff" fill-rule="evenodd" stroke-width="1.5"/>
<ellipse cx="739.1" cy="394.5" rx="17.2" ry="29.7" transform="rotate(-30 739.1 394.5)" fill="none" stroke-width="0.8"/>
<ellipse cx="725" cy="402.6" rx="21.3" ry="36.7" transform="rotate(-30 725 402.6)" fill="#fff" stroke-width="1.1"/>
<path d="M741.5 435.5 A21.3 36.7 -30 1 0 704.8 372 A21.3 36.7 -30 1 0 741.5 435.5 Z M739.6 394.2 L741.9 398.6 L739.8 399.2 L741.4 403.2 L743.7 403.1 L745 407.7 L742.5 407.2 L743.2 411.2 L745.7 412.1 L745.9 416.3 L743.4 414.9 L743.1 418.4 L745.5 420.2 L744.6 423.7 L742.2 421.5 L741 424.2 L743.2 426.8 L741.2 429.2 L739.2 426.4 L737.1 428 L738.9 431 L736.1 432.2 L734.6 429 L731.9 429.4 L733 432.6 L729.7 432.4 L728.9 429.2 L725.8 428.3 L726.2 431.4 L722.6 429.8 L722.6 426.9 L719.5 424.9 L719 427.5 L715.6 424.6 L716.4 422.3 L713.5 419.3 L712.3 421.2 L709.3 417.4 L710.8 415.9 L708.4 412.2 L706.6 413.3 L704.4 408.9 L706.4 408.3 L704.8 404.3 L702.6 404.4 L701.3 399.8 L703.7 400.3 L703 396.3 L700.5 395.4 L700.3 391.2 L702.8 392.6 L703.2 389.1 L700.7 387.3 L701.6 383.8 L704 386 L705.3 383.3 L703 380.7 L705 378.3 L707 381.1 L709.1 379.5 L707.4 376.5 L710.1 375.3 L711.6 378.5 L714.3 378.1 L713.2 374.9 L716.6 375.1 L717.3 378.3 L720.4 379.2 L720.1 376.1 L723.6 377.7 L723.6 380.6 L726.7 382.6 L727.2 380 L730.7 382.9 L729.8 385.2 L732.7 388.2 L733.9 386.3 L736.9 390.1 L735.4 391.6 L737.8 395.3 Z" fill="#fff" fill-rule="evenodd" stroke-width="1.4"/>
<ellipse cx="723.1" cy="403.8" rx="19.3" ry="34.7" transform="rotate(-30 723.1 403.8)" fill="none" stroke-width="0.8"/>
<polygon points="687.4,386.4 682,379.5 685.9,375.5 690.8,382.8" fill="#fff" stroke-width="1.1"/>
<polygon points="702.3,380.8 700.9,372.9 707.4,375.2 708,382.8" fill="#fff" stroke-width="1.1"/>
<polygon points="721.1,393.5 724.5,389.1 729.8,396.5 725.8,399.9" fill="#fff" stroke-width="1.1"/>
<polygon points="732.8,416.9 739,418.7 740.1,426.7 733.7,424.1" fill="#fff" stroke-width="1.1"/>
<polygon points="730.6,437.4 735.9,444.3 732.1,448.3 727.2,441" fill="#fff" stroke-width="1.1"/>
<polygon points="715.7,443 717.1,450.9 710.6,448.6 710,441" fill="#fff" stroke-width="1.1"/>
<polygon points="696.9,430.3 693.5,434.7 688.1,427.3 692.2,423.9" fill="#fff" stroke-width="1.1"/>
<polygon points="685.2,406.9 679,405.1 677.9,397.1 684.3,399.7" fill="#fff" stroke-width="1.1"/>
<polygon points="687.4,386.4 682,379.5 685.9,375.5 690.8,382.8" fill="#fff" stroke-width="1.1"/>
<ellipse cx="709" cy="411.9" rx="22.8" ry="38.2" transform="rotate(-30 709 411.9)" fill="#fff" stroke-width="1.1"/>
<polygon points="685.5,387.5 680.1,380.6 684,376.6 688.9,383.9" fill="#fff" stroke-width="1.4"/>
<polygon points="700.4,381.9 699,374 705.5,376.3 706.1,383.9" fill="#fff" stroke-width="1.4"/>
<polygon points="719.2,394.6 722.6,390.2 727.9,397.6 723.9,401" fill="#fff" stroke-width="1.4"/>
<polygon points="730.9,418 737.1,419.8 738.1,427.8 731.8,425.2" fill="#fff" stroke-width="1.4"/>
<polygon points="728.7,438.5 734,445.4 730.2,449.4 725.3,442.1" fill="#fff" stroke-width="1.4"/>
<polygon points="713.8,444.1 715.2,452 708.7,449.7 708.1,442.1" fill="#fff" stroke-width="1.4"/>
<polygon points="695,431.4 691.6,435.8 686.2,428.4 690.3,425" fill="#fff" stroke-width="1.4"/>
<polygon points="683.3,408 677.1,406.2 676,398.2 682.4,400.8" fill="#fff" stroke-width="1.4"/>
<polygon points="685.5,387.5 680.1,380.6 684,376.6 688.9,383.9" fill="#fff" stroke-width="1.4"/>
<path d="M726.2 446.1 A22.8 38.2 -30 1 0 688 379.9 A22.8 38.2 -30 1 0 726.2 446.1 Z M721.2 437.4 A16.2 28.2 -30 1 0 693 388.6 A16.2 28.2 -30 1 0 721.2 437.4 Z" fill="#fff" fill-rule="evenodd" stroke-width="1.5"/>
<ellipse cx="707.1" cy="413" rx="17.2" ry="29.7" transform="rotate(-30 707.1 413)" fill="none" stroke-width="0.8"/>
<ellipse cx="693" cy="421.1" rx="21.3" ry="36.7" transform="rotate(-30 693 421.1)" fill="#fff" stroke-width="1.1"/>
<path d="M709.4 454 A21.3 36.7 -30 1 0 672.7 390.5 A21.3 36.7 -30 1 0 709.4 454 Z M707.6 412.7 L709.8 417.1 L707.7 417.7 L709.3 421.7 L711.6 421.6 L712.9 426.2 L710.5 425.7 L711.2 429.7 L713.7 430.6 L713.9 434.8 L711.3 433.4 L711 436.9 L713.5 438.7 L712.6 442.2 L710.2 440 L708.9 442.7 L711.1 445.3 L709.2 447.7 L707.2 444.9 L705.1 446.5 L706.8 449.5 L704 450.7 L702.6 447.5 L699.8 447.9 L700.9 451.1 L697.6 450.9 L696.9 447.7 L693.8 446.8 L694.1 449.9 L690.5 448.3 L690.6 445.4 L687.4 443.4 L687 446 L683.5 443.1 L684.4 440.8 L681.4 437.8 L680.2 439.7 L677.2 435.9 L678.8 434.4 L676.4 430.7 L674.6 431.8 L672.3 427.4 L674.4 426.8 L672.8 422.8 L670.5 422.9 L669.2 418.3 L671.6 418.8 L671 414.8 L668.5 413.9 L668.3 409.7 L670.8 411.1 L671.1 407.6 L668.6 405.8 L669.5 402.3 L671.9 404.5 L673.2 401.8 L671 399.2 L672.9 396.8 L674.9 399.6 L677.1 398 L675.3 395 L678.1 393.8 L679.5 397 L682.3 396.6 L681.2 393.4 L684.5 393.6 L685.2 396.8 L688.4 397.7 L688 394.6 L691.6 396.2 L691.5 399.1 L694.7 401.1 L695.1 398.5 L698.6 401.4 L697.8 403.7 L700.7 406.7 L701.9 404.8 L704.9 408.6 L703.4 410.1 L705.7 413.8 Z" fill="#fff" fill-rule="evenodd" stroke-width="1.4"/>
<ellipse cx="691.1" cy="422.2" rx="19.3" ry="34.7" transform="rotate(-30 691.1 422.2)" fill="none" stroke-width="0.8"/>
<polygon points="655.4,404.9 650,398 653.9,394 658.8,401.3" fill="#fff" stroke-width="1.1"/>
<polygon points="670.2,399.3 668.9,391.4 675.4,393.7 676,401.3" fill="#fff" stroke-width="1.1"/>
<polygon points="689,412 692.5,407.6 697.8,415 693.8,418.4" fill="#fff" stroke-width="1.1"/>
<polygon points="700.8,435.4 707,437.2 708,445.2 701.7,442.6" fill="#fff" stroke-width="1.1"/>
<polygon points="698.5,455.9 703.9,462.8 700,466.8 695.1,459.5" fill="#fff" stroke-width="1.1"/>
<polygon points="683.7,461.5 685,469.4 678.5,467.1 677.9,459.5" fill="#fff" stroke-width="1.1"/>
<polygon points="664.9,448.8 661.4,453.2 656.1,445.8 660.1,442.4" fill="#fff" stroke-width="1.1"/>
<polygon points="653.1,425.4 646.9,423.6 645.9,415.6 652.2,418.2" fill="#fff" stroke-width="1.1"/>
<polygon points="655.4,404.9 650,398 653.9,394 658.8,401.3" fill="#fff" stroke-width="1.1"/>
<ellipse cx="676.9" cy="430.4" rx="22.8" ry="38.2" transform="rotate(-30 676.9 430.4)" fill="#fff" stroke-width="1.1"/>
<polygon points="653.5,406 648.1,399.1 652,395.1 656.9,402.4" fill="#fff" stroke-width="1.4"/>
<polygon points="668.3,400.4 667,392.5 673.5,394.8 674.1,402.4" fill="#fff" stroke-width="1.4"/>
<polygon points="687.1,413.1 690.6,408.7 695.9,416.1 691.8,419.5" fill="#fff" stroke-width="1.4"/>
<polygon points="698.9,436.5 705.1,438.3 706.1,446.3 699.8,443.7" fill="#fff" stroke-width="1.4"/>
<polygon points="696.6,457 702,463.9 698.1,467.9 693.2,460.6" fill="#fff" stroke-width="1.4"/>
<polygon points="681.8,462.6 683.1,470.5 676.6,468.2 676,460.6" fill="#fff" stroke-width="1.4"/>
<polygon points="662.9,449.9 659.5,454.3 654.2,446.9 658.2,443.5" fill="#fff" stroke-width="1.4"/>
<polygon points="651.2,426.5 645,424.7 644,416.7 650.3,419.3" fill="#fff" stroke-width="1.4"/>
<polygon points="653.5,406 648.1,399.1 652,395.1 656.9,402.4" fill="#fff" stroke-width="1.4"/>
<path d="M694.1 464.6 A22.8 38.2 -30 1 0 655.9 398.4 A22.8 38.2 -30 1 0 694.1 464.6 Z M689.1 455.9 A16.2 28.2 -30 1 0 660.9 407.1 A16.2 28.2 -30 1 0 689.1 455.9 Z" fill="#fff" fill-rule="evenodd" stroke-width="1.5"/>
<ellipse cx="675" cy="431.5" rx="17.2" ry="29.7" transform="rotate(-30 675 431.5)" fill="none" stroke-width="0.8"/>
<ellipse cx="660.9" cy="439.6" rx="21.3" ry="36.7" transform="rotate(-30 660.9 439.6)" fill="#fff" stroke-width="1.1"/>
<path d="M677.4 472.5 A21.3 36.7 -30 1 0 640.7 409 A21.3 36.7 -30 1 0 677.4 472.5 Z M675.5 431.2 L677.8 435.6 L675.7 436.2 L677.3 440.2 L679.6 440.1 L680.9 444.7 L678.4 444.2 L679.1 448.2 L681.6 449.1 L681.8 453.3 L679.3 451.9 L679 455.4 L681.5 457.2 L680.5 460.7 L678.2 458.5 L676.9 461.2 L679.1 463.8 L677.2 466.2 L675.1 463.4 L673 465 L674.8 468 L672 469.2 L670.6 466 L667.8 466.4 L668.9 469.6 L665.6 469.4 L664.8 466.2 L661.7 465.3 L662.1 468.4 L658.5 466.8 L658.6 463.9 L655.4 461.9 L654.9 464.5 L651.5 461.6 L652.3 459.3 L649.4 456.3 L648.2 458.2 L645.2 454.4 L646.7 452.9 L644.4 449.2 L642.5 450.3 L640.3 445.9 L642.4 445.3 L640.8 441.3 L638.5 441.4 L637.2 436.8 L639.6 437.3 L638.9 433.3 L636.4 432.4 L636.2 428.2 L638.8 429.6 L639.1 426.1 L636.6 424.3 L637.5 420.8 L639.9 423 L641.2 420.3 L638.9 417.7 L640.9 415.3 L642.9 418.1 L645 416.5 L643.3 413.5 L646 412.3 L647.5 415.5 L650.2 415.1 L649.1 411.9 L652.5 412.1 L653.2 415.3 L656.3 416.2 L656 413.1 L659.5 414.7 L659.5 417.6 L662.7 419.6 L663.1 417 L666.6 419.9 L665.7 422.2 L668.6 425.2 L669.8 423.3 L672.8 427.1 L671.3 428.6 L673.7 432.3 Z" fill="#fff" fill-rule="evenodd" stroke-width="1.4"/>
<ellipse cx="659" cy="440.8" rx="19.3" ry="34.7" transform="rotate(-30 659 440.8)" fill="none" stroke-width="0.8"/>
<polygon points="623.3,423.4 618,416.5 621.8,412.5 626.7,419.8" fill="#fff" stroke-width="1.1"/>
<polygon points="638.2,417.8 636.8,409.9 643.3,412.2 643.9,419.8" fill="#fff" stroke-width="1.1"/>
<polygon points="657,430.5 660.4,426.1 665.7,433.5 661.7,436.9" fill="#fff" stroke-width="1.1"/>
<polygon points="668.7,453.9 674.9,455.7 676,463.7 669.6,461.1" fill="#fff" stroke-width="1.1"/>
<polygon points="666.5,474.4 671.9,481.3 668,485.3 663.1,478" fill="#fff" stroke-width="1.1"/>
<polygon points="651.6,480 653,487.9 646.5,485.6 645.9,478" fill="#fff" stroke-width="1.1"/>
<polygon points="632.8,467.3 629.4,471.7 624.1,464.3 628.1,460.9" fill="#fff" stroke-width="1.1"/>
<polygon points="621.1,443.9 614.9,442.1 613.8,434.1 620.2,436.7" fill="#fff" stroke-width="1.1"/>
<polygon points="623.3,423.4 618,416.5 621.8,412.5 626.7,419.8" fill="#fff" stroke-width="1.1"/>
<path d="M664 482 A22.8 38.2 -30 1 0 625.8 415.8 A22.8 38.2 -30 1 0 664 482 Z M659 473.3 A16.2 28.2 -30 1 0 630.8 424.5 A16.2 28.2 -30 1 0 659 473.3 Z" fill="#fff" fill-rule="evenodd" stroke-width="1.1"/>
<polygon points="621.4,424.5 616,417.6 619.9,413.6 624.8,420.9" fill="#fff" stroke-width="1.4"/>
<polygon points="636.3,418.9 634.9,411 641.4,413.3 642,420.9" fill="#fff" stroke-width="1.4"/>
<polygon points="655.1,431.6 658.5,427.2 663.8,434.6 659.8,438" fill="#fff" stroke-width="1.4"/>
<polygon points="666.8,455 673,456.8 674.1,464.8 667.7,462.2" fill="#fff" stroke-width="1.4"/>
<polygon points="664.6,475.5 670,482.4 666.1,486.4 661.2,479.1" fill="#fff" stroke-width="1.4"/>
<polygon points="649.7,481.1 651.1,489 644.6,486.7 644,479.1" fill="#fff" stroke-width="1.4"/>
<polygon points="630.9,468.4 627.5,472.8 622.2,465.4 626.2,462" fill="#fff" stroke-width="1.4"/>
<polygon points="619.2,445 613,443.2 611.9,435.2 618.3,437.8" fill="#fff" stroke-width="1.4"/>
<polygon points="621.4,424.5 616,417.6 619.9,413.6 624.8,420.9" fill="#fff" stroke-width="1.4"/>
<path d="M662.1 483.1 A22.8 38.2 -30 1 0 623.9 416.9 A22.8 38.2 -30 1 0 662.1 483.1 Z M657.1 474.4 A16.2 28.2 -30 1 0 628.9 425.6 A16.2 28.2 -30 1 0 657.1 474.4 Z" fill="#fff" fill-rule="evenodd" stroke-width="1.5"/>
<ellipse cx="643" cy="450" rx="17.2" ry="29.7" transform="rotate(-30 643 450)" fill="none" stroke-width="0.8"/>
<polygon points="1043,400 1051,395.7 1058.7,400 1058.7,407 1055,409 1058.7,412 1058.7,417 1051,420.5 1043,416 1043,410 1046,408 1043,406" fill="#fff" stroke-width="1.4"/>
<polyline points="1043,400 1051,404.5 1058.7,400" stroke-width="1.1"/>
<polyline points="1051,404.5 1051,420.5" stroke-width="1.1"/>
<ellipse cx="1033.6" cy="414.5" rx="7.1" ry="11.8" transform="rotate(-30 1033.6 414.5)" fill="#fff" stroke-width="1.4"/>
<polygon points="1036.9,426.2 1039.5,424.7 1027.7,404.3 1025.1,405.8" fill="#fff" stroke="none"/>
<polyline points="1036.9,426.2 1039.5,424.7" stroke-width="1.4"/>
<polyline points="1025.1,405.8 1027.7,404.3" stroke-width="1.4"/>
<ellipse cx="1031" cy="416" rx="7.1" ry="11.8" transform="rotate(-30 1031 416)" fill="#fff" stroke-width="1.4"/>
<path d="M1036.9 426.2 A7.1 11.8 -30 1 0 1025.1 405.8 A7.1 11.8 -30 1 0 1036.9 426.2 Z M1035.6 424 A5.1 9.3 -30 1 0 1026.4 408 A5.1 9.3 -30 1 0 1035.6 424 Z" fill="#fff" fill-rule="evenodd" stroke-width="1.3"/>
<ellipse cx="1024.6" cy="420" rx="7.1" ry="11.8" transform="rotate(-30 1024.6 420)" fill="#fff" stroke-width="1.4"/>
<polygon points="1027.9,431.7 1030.5,430.2 1018.7,409.8 1016.1,411.3" fill="#fff" stroke="none"/>
<polyline points="1027.9,431.7 1030.5,430.2" stroke-width="1.4"/>
<polyline points="1016.1,411.3 1018.7,409.8" stroke-width="1.4"/>
<ellipse cx="1022" cy="421.5" rx="7.1" ry="11.8" transform="rotate(-30 1022 421.5)" fill="#fff" stroke-width="1.4"/>
<path d="M1027.9 431.7 A7.1 11.8 -30 1 0 1016.1 411.3 A7.1 11.8 -30 1 0 1027.9 431.7 Z M1026.6 429.5 A5.1 9.3 -30 1 0 1017.4 413.5 A5.1 9.3 -30 1 0 1026.6 429.5 Z" fill="#fff" fill-rule="evenodd" stroke-width="1.3"/>
<ellipse cx="1015.1" cy="426.2" rx="7.1" ry="11.8" transform="rotate(-30 1015.1 426.2)" fill="#fff" stroke-width="1.4"/>
<polygon points="1018.4,437.9 1021,436.4 1009.2,416 1006.6,417.5" fill="#fff" stroke="none"/>
<polyline points="1018.4,437.9 1021,436.4" stroke-width="1.4"/>
<polyline points="1006.6,417.5 1009.2,416" stroke-width="1.4"/>
<ellipse cx="1012.5" cy="427.7" rx="7.1" ry="11.8" transform="rotate(-30 1012.5 427.7)" fill="#fff" stroke-width="1.4"/>
<path d="M1018.4 437.9 A7.1 11.8 -30 1 0 1006.6 417.5 A7.1 11.8 -30 1 0 1018.4 437.9 Z M1017.1 435.7 A5.1 9.3 -30 1 0 1007.9 419.7 A5.1 9.3 -30 1 0 1017.1 435.7 Z" fill="#fff" fill-rule="evenodd" stroke-width="1.3"/>
<ellipse cx="994.8" cy="437.6" rx="10.6" ry="16.4" transform="rotate(-30 994.8 437.6)" fill="#fff" stroke-width="1.5"/>
<polygon points="1000.8,453 1003,451.8 986.5,423.3 984.4,424.6" fill="#fff" stroke="none"/>
<polyline points="1000.8,453 1003,451.8" stroke-width="1.5"/>
<polyline points="984.4,424.6 986.5,423.3" stroke-width="1.5"/>
<ellipse cx="992.6" cy="438.8" rx="10.6" ry="16.4" transform="rotate(-30 992.6 438.8)" fill="#fff" stroke-width="1.5"/>
<path d="M1000.8 453 A10.6 16.4 -30 1 0 984.4 424.6 A10.6 16.4 -30 1 0 1000.8 453 Z M999.1 450 A7.6 12.9 -30 1 0 986.1 427.6 A7.6 12.9 -30 1 0 999.1 450 Z" fill="#fff" fill-rule="evenodd" stroke-width="1.5"/>
<ellipse cx="964.8" cy="457" rx="22.7" ry="37" transform="rotate(-30 964.8 457)" fill="#fff" stroke-width="1.6"/>
<polygon points="975.5,493.5 983.3,489 946.3,425 938.5,429.5" fill="#fff" stroke="none"/>
<polyline points="975.5,493.5 983.3,489" stroke-width="1.6"/>
<polyline points="938.5,429.5 946.3,425" stroke-width="1.6"/>
<ellipse cx="957" cy="461.5" rx="22.7" ry="37" transform="rotate(-30 957 461.5)" fill="#fff" stroke-width="1.6"/>
<path d="M975.5 493.5 A22.7 37 -30 1 0 938.5 429.5 A22.7 37 -30 1 0 975.5 493.5 Z M974 491 A20.2 34 -30 1 0 940 432 A20.2 34 -30 1 0 974 491 Z" fill="none" fill-rule="evenodd" stroke-width="1.1"/>
<polyline points="966.3,488 964.3,488.3 962.1,488.3 959.9,487.9 957.6,487.1 955.3,486.1 952.9,484.7 950.6,483 948.4,481 946.2,478.8 944.2,476.4 942.3,473.8 940.5,471.1 939,468.2 937.7,465.2 936.6,462.3 935.8,459.3 935.2,456.4 934.9,453.5 934.9,450.8 935.1,448.2 935.6,445.9 936.4,443.7 937.4,441.9 938.7,440.3" stroke-width="1.2"/>
<polyline points="959.3,484.1 957.7,483.9 956.1,483.6 954.5,483.1 952.9,482.4 951.2,481.4 949.6,480.3 948,479.1 946.5,477.6 945,476.1 943.6,474.4 942.3,472.6 941.1,470.7 940.1,468.7 939.2,466.7 938.4,464.6 937.7,462.5 937.3,460.5 937,458.5 936.8,456.5 936.9,454.6 937,452.9 937.4,451.2 937.9,449.6 938.6,448.2" stroke-width="1.2"/>
<ellipse cx="940.3" cy="471.5" rx="23.1" ry="37.7" transform="rotate(-30 940.3 471.5)" fill="#fff" stroke-width="1.6"/>
<polygon points="956.6,505.7 959.2,504.2 921.4,438.8 918.8,440.3" fill="#fff" stroke="none"/>
<polyline points="956.6,505.7 959.2,504.2" stroke-width="1.6"/>
<polyline points="918.8,440.3 921.4,438.8" stroke-width="1.6"/>
<ellipse cx="937.7" cy="473" rx="23.1" ry="37.7" transform="rotate(-30 937.7 473)" fill="#fff" stroke-width="1.6"/>
<path d="M956.6 505.7 A23.1 37.7 -30 1 0 918.8 440.3 A23.1 37.7 -30 1 0 956.6 505.7 Z M954.6 502.2 A19.6 33.7 -30 1 0 920.8 443.8 A19.6 33.7 -30 1 0 954.6 502.2 Z" fill="#fff" fill-rule="evenodd" stroke-width="1.7"/>
<path d="M929.5 450.5 C931 462 936.3 474.8 953 490" fill="none" stroke-width="1.3"/>
<path d="M935.6 453.6 C938 462 944 471.7 953 480.8" fill="none" stroke-width="1.3"/>
<path d="M950.7 449.8 C957 453 965 461 966.6 470.2" fill="none" stroke-width="1.3"/>
<path d="M953 440 C962 444 970 452 973 462" fill="none" stroke-width="1.2"/>
<ellipse cx="948.4" cy="465" rx="2" ry="3" transform="rotate(-30 948.4 465)" fill="#fff" stroke-width="1.1"/>
<ellipse cx="909.8" cy="493" rx="5.5" ry="9" transform="rotate(-30 909.8 493)" fill="#fff" stroke-width="1.4"/>
<polygon points="893.5,512.8 914.3,500.8 905.3,485.2 884.5,497.2" fill="#fff" stroke="none"/>
<polyline points="893.5,512.8 914.3,500.8" stroke-width="1.4"/>
<polyline points="884.5,497.2 905.3,485.2" stroke-width="1.4"/>
<ellipse cx="889" cy="505" rx="5.5" ry="9" transform="rotate(-30 889 505)" fill="#fff" stroke-width="1.4"/>
<polyline points="886.1,495.5 886.8,495.2 887.6,495.1 888.4,495 889.3,495.2 890.2,495.5 891.1,495.9 892,496.5 892.9,497.2 893.8,498.1 894.6,499 895.3,500 896,501.1 896.6,502.2 897.1,503.4 897.5,504.6 897.8,505.7 898,506.9 898,508 897.9,509 897.8,509.9 897.4,510.7 897,511.4 896.5,512 895.9,512.5" stroke-width="2.0"/>
<polyline points="889,493.9 889.7,493.6 890.4,493.4 891.3,493.4 892.1,493.6 893,493.9 893.9,494.3 894.9,494.9 895.8,495.6 896.6,496.4 897.4,497.4 898.2,498.4 898.9,499.5 899.5,500.6 900,501.7 900.4,502.9 900.7,504.1 900.8,505.2 900.9,506.3 900.8,507.3 900.6,508.3 900.3,509.1 899.9,509.8 899.4,510.4 898.8,510.8" stroke-width="2.0"/>
<polyline points="891.8,492.2 892.5,491.9 893.3,491.8 894.1,491.7 895,491.9 895.9,492.2 896.8,492.6 897.7,493.2 898.6,493.9 899.5,494.8 900.3,495.7 901.1,496.7 901.7,497.8 902.3,498.9 902.8,500.1 903.2,501.3 903.5,502.4 903.7,503.6 903.7,504.7 903.7,505.7 903.5,506.6 903.2,507.4 902.7,508.1 902.2,508.7 901.6,509.2" stroke-width="2.0"/>
<polyline points="894.7,490.6 895.4,490.3 896.1,490.1 897,490.1 897.8,490.2 898.7,490.6 899.7,491 900.6,491.6 901.5,492.3 902.3,493.1 903.2,494.1 903.9,495.1 904.6,496.2 905.2,497.3 905.7,498.4 906.1,499.6 906.4,500.8 906.5,501.9 906.6,503 906.5,504 906.3,505 906,505.8 905.6,506.5 905.1,507.1 904.5,507.5" stroke-width="2.0"/>
<polyline points="897.5,488.9 898.2,488.6 899,488.5 899.8,488.4 900.7,488.6 901.6,488.9 902.5,489.3 903.4,489.9 904.3,490.6 905.2,491.5 906,492.4 906.8,493.4 907.5,494.5 908.1,495.6 908.6,496.8 908.9,498 909.2,499.1 909.4,500.3 909.4,501.4 909.4,502.4 909.2,503.3 908.9,504.1 908.5,504.8 907.9,505.4 907.3,505.9" stroke-width="2.0"/>
<polyline points="900.4,487.3 901.1,487 901.9,486.8 902.7,486.8 903.6,486.9 904.5,487.3 905.4,487.7 906.3,488.3 907.2,489 908.1,489.8 908.9,490.8 909.6,491.8 910.3,492.9 910.9,494 911.4,495.1 911.8,496.3 912.1,497.5 912.3,498.6 912.3,499.7 912.2,500.7 912,501.7 911.7,502.5 911.3,503.2 910.8,503.8 910.2,504.2" stroke-width="2.0"/>
<ellipse cx="869.5" cy="511.5" rx="22" ry="38" transform="rotate(-30 869.5 511.5)" fill="#fff" stroke-width="1.6"/>
<polygon points="827,579.9 888.5,544.4 850.5,478.6 789,514.1" fill="#fff" stroke="none"/>
<polyline points="827,579.9 888.5,544.4" stroke-width="1.6"/>
<polyline points="789,514.1 850.5,478.6" stroke-width="1.6"/>
<path d="M851 478 C856 475 864 476 866 480 L866 486 L852 494 Z" fill="#fff" stroke-width="1.3"/>
<polygon points="847,491 865.4,481 866.9,486 848.5,496" fill="#fff" stroke-width="1.3"/>
<polygon points="812.7,514 834.8,503 836.3,508 814.2,519" fill="#fff" stroke-width="1.3"/>
<polygon points="871,522 888,514 889.5,519 872.5,527" fill="#fff" stroke-width="1.3"/>
<polygon points="838,543 857,532 858.5,537 839.5,548" fill="#fff" stroke-width="1.3"/>
<polygon points="874,553 891,546 892.5,551 875.5,558" fill="#fff" stroke-width="1.3"/>
<path d="M827 579.9 A22 38 -30 1 0 789 514.1 A22 38 -30 1 0 827 579.9 Z" fill="#fff" stroke-width="1.6"/>
<polyline points="837.4,565 836.7,567.3 835.8,569.3 834.6,571 833.3,572.5 831.7,573.7 830,574.5 828.1,575.1 826,575.3 823.9,575.1 821.6,574.7 819.2,573.9 816.8,572.8 814.4,571.4 811.9,569.8 809.5,567.8 807.1,565.6 804.8,563.2 802.6,560.5 800.5,557.7 798.6,554.7 796.8,551.7 795.2,548.5 793.8,545.3 792.6,542.1" stroke-width="1.2"/>
<path d="M783 522 C781 535 784 548 792 556 L797 553 C791 545 789 533 790 521 Z" fill="#fff" stroke-width="1.4"/>
<path d="M791 519 C790 531 793 543 800 551 L805 548 C799 540 797 529 798 516 Z" fill="#fff" stroke-width="1.4"/>
<path d="M790 514 L816 500 L834 503 L808 518 Z" fill="#fff" stroke-width="1.3"/>
<path d="M830 512 C838 522 843 536 846 552" fill="none" stroke-width="1.2"/>
<polyline points="820,519 842,558" stroke-width="1.2"/>
<path d="M817 578 L830 574 C835 575 835 583 828 586 L816 588 C811 587 811 581 817 578 Z" fill="#fff" stroke-width="1.4"/>
<polyline points="807,580 829,570 842,572" stroke-width="1.2"/>
<ellipse cx="821.6" cy="544" rx="7.5" ry="12.5" transform="rotate(-30 821.6 544)" fill="#fff" stroke-width="1.5"/>
<polygon points="812.2,563.8 827.8,554.8 815.3,533.2 799.8,542.2" fill="#fff" stroke="none"/>
<polyline points="812.2,563.8 827.8,554.8" stroke-width="1.5"/>
<polyline points="799.8,542.2 815.3,533.2" stroke-width="1.5"/>
<ellipse cx="806" cy="553" rx="7.5" ry="12.5" transform="rotate(-30 806 553)" fill="#fff" stroke-width="1.5"/>
<ellipse cx="802.9" cy="554" rx="5.5" ry="9.5" transform="rotate(-30 802.9 554)" fill="#fff" stroke-width="1.4"/>
<polygon points="793.8,570.2 807.6,562.2 798.1,545.8 784.2,553.8" fill="#fff" stroke="none"/>
<polyline points="793.8,570.2 807.6,562.2" stroke-width="1.4"/>
<polyline points="784.2,553.8 798.1,545.8" stroke-width="1.4"/>
<ellipse cx="789" cy="562" rx="5.5" ry="9.5" transform="rotate(-30 789 562)" fill="#fff" stroke-width="1.4"/>
<polyline points="792.9,570.6 805.8,563.1" stroke-width="1.0"/>
<polyline points="790.7,570.5 803.7,563" stroke-width="1.0"/>
<polyline points="788.4,569.4 801.4,561.9" stroke-width="1.0"/>
<polyline points="786.1,567.4 799.1,559.9" stroke-width="1.0"/>
<polyline points="784.2,564.8 797.2,557.2" stroke-width="1.0"/>
<polyline points="782.9,561.8 795.9,554.3" stroke-width="1.0"/>
<polyline points="782.3,558.8 795.3,551.3" stroke-width="1.0"/>
<polyline points="782.5,556.2 795.5,548.8" stroke-width="1.0"/>
<ellipse cx="783.5" cy="564" rx="4.2" ry="6.8" transform="rotate(-30 783.5 564)" fill="#fff" stroke-width="1.5"/>
<polygon points="777.4,575.4 786.9,569.9 780.1,558.1 770.6,563.6" fill="#fff" stroke="none"/>
<polyline points="777.4,575.4 786.9,569.9" stroke-width="1.5"/>
<polyline points="770.6,563.6 780.1,558.1" stroke-width="1.5"/>
<ellipse cx="774" cy="569.5" rx="4.2" ry="6.8" transform="rotate(-30 774 569.5)" fill="#fff" stroke-width="1.5"/>
<polyline points="777.2,572.9 776.9,573 776.6,573.1 776.2,573.1 775.8,573 775.4,572.9 775,572.7 774.6,572.4 774.2,572.1 773.8,571.7 773.4,571.3 773.1,570.8 772.7,570.3 772.5,569.8 772.2,569.2 772.1,568.7 771.9,568.2 771.8,567.7 771.8,567.2 771.8,566.7 771.9,566.3 772.1,565.9 772.2,565.6 772.5,565.3 772.8,565.1" stroke-width="1.0"/>
<path d="M767.4 620.7 A21 37.7 -30 1 0 729.6 555.3 A21 37.7 -30 1 0 767.4 620.7 Z M765.6 617.6 A18 34.2 -30 1 0 731.4 558.4 A18 34.2 -30 1 0 765.6 617.6 Z" fill="#fff" fill-rule="evenodd" stroke-width="1.5"/>
<ellipse cx="729.1" cy="597" rx="23.4" ry="37.5" transform="rotate(-30 729.1 597)" fill="#fff" stroke-width="1.6"/>
<polygon points="741.7,633 747.8,629.5 710.3,564.5 704.3,568" fill="#fff" stroke="none"/>
<polyline points="741.7,633 747.8,629.5" stroke-width="1.6"/>
<polyline points="704.3,568 710.3,564.5" stroke-width="1.6"/>
<ellipse cx="723" cy="600.5" rx="23.4" ry="37.5" transform="rotate(-30 723 600.5)" fill="#fff" stroke-width="1.6"/>
<path d="M741.7 633 A23.4 37.5 -30 1 0 704.3 568 A23.4 37.5 -30 1 0 741.7 633 Z M740.5 630.8 A20.9 35 -30 1 0 705.5 570.2 A20.9 35 -30 1 0 740.5 630.8 Z" fill="none" fill-rule="evenodd" stroke-width="1.1"/>
<ellipse cx="723.6" cy="599.9" rx="14" ry="21.5" transform="rotate(-30 723.6 599.9)" fill="#fff" stroke-width="1.3"/>
<path d="M734.4 618.5 A14 21.5 -30 1 0 712.8 581.3 A14 21.5 -30 1 0 734.4 618.5 Z M733.1 616.4 A12 19 -30 1 0 714.1 583.4 A12 19 -30 1 0 733.1 616.4 Z" fill="none" fill-rule="evenodd" stroke-width="1"/>
<ellipse cx="727.1" cy="598.5" rx="8.3" ry="12" transform="rotate(-30 727.1 598.5)" fill="#fff" stroke-width="1.4"/>
<polygon points="729.6,610.9 733.1,608.9 721.1,588.1 717.6,590.1" fill="#fff" stroke="none"/>
<polyline points="729.6,610.9 733.1,608.9" stroke-width="1.4"/>
<polyline points="717.6,590.1 721.1,588.1" stroke-width="1.4"/>
<ellipse cx="723.6" cy="600.5" rx="8.3" ry="12" transform="rotate(-30 723.6 600.5)" fill="#fff" stroke-width="1.4"/>
<polyline points="727.5,609.6 726.8,609.8 726,609.8 725.2,609.7 724.3,609.5 723.5,609.3 722.7,608.9 721.8,608.4 721,607.8 720.3,607.1 719.5,606.3 718.8,605.5 718.2,604.6 717.6,603.7 717.1,602.7 716.7,601.7 716.4,600.7 716.1,599.7 716,598.7 715.9,597.7 715.9,596.8 716,595.9 716.2,595 716.5,594.2 716.9,593.5" stroke-width="1"/>
<ellipse cx="716" cy="571" rx="2.2" ry="1.8" fill="#fff" stroke-width="1.1"/>
<path d="M718 628 L722 630 L724 625" fill="none" stroke-width="1.3"/>
<path d="M700.3 631.2 A10.5 16.2 -30 1 0 684.1 603.2 A10.5 16.2 -30 1 0 700.3 631.2 Z M698.8 628.6 A7.9 13.2 -30 1 0 685.6 605.8 A7.9 13.2 -30 1 0 698.8 628.6 Z" fill="#fff" fill-rule="evenodd" stroke-width="1.6"/>
<path d="M578 848 L574 808 L611 788 L612 782 L678 746 L677 688 L703 677 L744.6 692 C757 699 783 707 799 728 L784 745.5 C775 760 765 768 757 769 C720 800 650 850 580 873.7 C565 879 555 882 547 882.5 C532 881 522 876 514 865 L511 793 Z" fill="#fff" stroke-width="1.6"/>
<polyline points="580,824.6 742.4,693" stroke-width="1.2"/>
<polyline points="580,831 719,728.4" stroke-width="1.2"/>
<path d="M744.6 692 C752 700 760 705 783 707" fill="none" stroke-width="1.1"/>
<polyline points="677,721.6 731,696.5" stroke-width="1.2"/>
<polyline points="677,727 742.5,693" stroke-width="1.0"/>
<ellipse cx="691" cy="687" rx="1.6" ry="1.3" fill="#fff" stroke-width="1"/>
<ellipse cx="698" cy="706" rx="1.6" ry="1.3" fill="#fff" stroke-width="1"/>
<ellipse cx="702" cy="681" rx="1.6" ry="1.3" fill="#fff" stroke-width="1"/>
<polyline points="711,661.7 711,702" stroke-width="1.2"/>
<polyline points="702,695 720,688" stroke-width="1"/>
<polyline points="716,684 723,691" stroke-width="1"/>
<path d="M640 784 L642 776 L644 784 Z" fill="none" stroke-width="1.1"/>
<path d="M676 764 C674 758 680 757 679 764 C679 768 676 768 676 764 Z" fill="none" stroke-width="1.1"/>
<path d="M731 745 L735 735 L752 724 C770 720 782 730 784 745 C785 760 777 770 766 771 L740 763 C734 760 731 752 731 745 Z" fill="#fff" stroke-width="1.5"/>
<ellipse cx="770" cy="752" rx="9.5" ry="11.5" fill="#fff" stroke-width="1.5"/>
<ellipse cx="772" cy="752" rx="5.5" ry="7" fill="#fff" stroke-width="1.3"/>
<ellipse cx="766" cy="769" rx="4" ry="3" fill="#fff" stroke-width="1.2"/>
<polyline points="738,744 758,750" stroke-width="1.1"/>
<polygon points="602.5,676.8 681,634 678,746 612,782" fill="#fff" stroke-width="1.6"/>
<polyline points="611,690 680,652" stroke-width="1.1"/>
<polyline points="612,704 679,666" stroke-width="1.1"/>
<polyline points="630,688 630,772" stroke-width="1.1"/>
<polyline points="641,682 641,767" stroke-width="1.1"/>
<polyline points="612,770 678,733" stroke-width="1.1"/>
<polyline points="612,760 678,723" stroke-width="1.1"/>
<polyline points="612,745 660,718" stroke-width="1.0"/>
<path d="M618 716 L650 690 C662 682 676 686 673 695 L628 726 Z" fill="#fff" stroke-width="1.3"/>
<ellipse cx="656" cy="695" rx="5.5" ry="5" fill="#fff" stroke-width="1.6"/>
<ellipse cx="657" cy="695" rx="2.8" ry="2.5" fill="#fff" stroke-width="1.1"/>
<ellipse cx="672" cy="700" rx="3" ry="2.5" fill="#fff" stroke-width="1.1"/>
<polygon points="514.2,635.5 545.5,610 596.8,584.2 605.4,581.4 636,599 645,606 679.5,625 681,634 602.5,676.8" fill="#fff" stroke-width="1.6"/>
<polyline points="605.4,581.4 608,594 677,631" stroke-width="1.1"/>
<polyline points="519,643 602,689" stroke-width="1.1"/>
<ellipse cx="593.3" cy="636" rx="50" ry="26" fill="#fff" stroke-width="1.6"/>
<path d="M549 648 C560 668 625 668 641 646" fill="none" stroke-width="1.3"/>
<path d="M591 641 C594 650 596 660 597 670" fill="none" stroke-width="1.1"/>
<path d="M610 642 C614 652 616 660 617 668" fill="none" stroke-width="1.1"/>
<ellipse cx="534" cy="626" rx="4.5" ry="3.5" fill="#fff" stroke-width="1.4"/>
<ellipse cx="534" cy="626" rx="2" ry="1.5" fill="#fff" stroke-width="1"/>
<ellipse cx="583" cy="596" rx="4.5" ry="3.5" fill="#fff" stroke-width="1.4"/>
<ellipse cx="583" cy="596" rx="2" ry="1.5" fill="#fff" stroke-width="1"/>
<ellipse cx="654" cy="638" rx="4.5" ry="3.5" fill="#fff" stroke-width="1.4"/>
<ellipse cx="654" cy="638" rx="2" ry="1.5" fill="#fff" stroke-width="1"/>
<ellipse cx="604" cy="667" rx="4.5" ry="3.5" fill="#fff" stroke-width="1.4"/>
<ellipse cx="604" cy="667" rx="2" ry="1.5" fill="#fff" stroke-width="1"/>
<path d="M605 585 L640 604 C646 607 646 613 640 612 L604 593 Z" fill="none" stroke-width="1.1"/>
<polyline points="590.5,612 592,632" stroke-width="1.3"/>
<ellipse cx="593.3" cy="636" rx="46" ry="22" fill="none" stroke-width="1.0"/>
<ellipse cx="578" cy="622" rx="3" ry="4" fill="none" stroke-width="1.0" stroke-dasharray="2 1.5"/>
<path d="M494.2 652.6 L514.2 635.5 L602.5 676.8 L611 690 L611 788 L580 797 L574 808 L578 848 L581 871 C565 879 555 882 547 882.5 C532 881 522 876 514 865 L511.3 793.7 L506.9 765.8 L504.4 753.2 Z" fill="#fff" stroke-width="1.6"/>
<ellipse cx="547.1" cy="703.1" rx="26.6" ry="46.1" transform="rotate(-30 547.1 703.1)" fill="#fff" stroke-width="1.6"/>
<path d="M531 664 C518 690 528 730 548 744" fill="none" stroke-width="1.1"/>
<path d="M544 668 C540 690 548 725 566 740" fill="none" stroke-width="1.1"/>
<polyline points="556,700 576,694" stroke-width="1"/>
<polyline points="560,714 578,708" stroke-width="1"/>
<polyline points="602.5,676.8 611,690" stroke-width="1.1"/>
<path d="M511 793 L523 788 L545 797 L575 808" fill="none" stroke-width="1.2"/>
<path d="M518 792 L520 858 C528 868 552 872 575 862 L576 812" fill="none" stroke-width="1.2"/>
<polyline points="532,786 533,862" stroke-width="1.2"/>
<polyline points="552,796 554,868" stroke-width="1.2"/>
<path d="M514 850 C530 858 560 862 580 856" fill="none" stroke-width="1.0"/>
<path d="M535.8 748.2 L538.3 746.9 L558.4 760.8 L576 773.3 C582 778 585 784 581.1 788.4 C578 790 574.8 787.2 574.8 787.2 L566 778.4 C562 772 560 768 558.4 765.8 L538.3 753.2 C536 752 535 750 535.8 748.2 Z" fill="none" stroke-width="1.3"/>
<rect x="500.6" y="669" width="7.4" height="16.3" rx="3.5" fill="#fff" stroke-width="1.3" transform="rotate(8 504.3 677.1)"/>
<rect x="500.6" y="699" width="8.8" height="21.5" rx="3.5" fill="#fff" stroke-width="1.3" transform="rotate(8 505 709.8)"/>
<rect x="584.9" y="749.4" width="8.1" height="26.4" rx="3.5" fill="#fff" stroke-width="1.3" transform="rotate(8 589 762.6)"/>
<ellipse cx="501.8" cy="656.4" rx="2.5" ry="3" fill="#fff" stroke-width="1.2"/>
<ellipse cx="499.3" cy="690.3" rx="2.5" ry="3" fill="#fff" stroke-width="1.2"/>
<ellipse cx="576" cy="686.5" rx="2.4" ry="2.8" fill="#fff" stroke-width="1.2"/>
<ellipse cx="593.7" cy="713" rx="2.5" ry="3" fill="#fff" stroke-width="1.2"/>
<ellipse cx="515.7" cy="743.1" rx="3.8" ry="4.5" fill="#fff" stroke-width="1.2"/>
<ellipse cx="528.3" cy="740.6" rx="1.7" ry="2" fill="#fff" stroke-width="1.2"/>
<ellipse cx="510.6" cy="758.2" rx="2.5" ry="3" fill="#fff" stroke-width="1.2"/>
<ellipse cx="591.2" cy="744.4" rx="2.4" ry="2.8" fill="#fff" stroke-width="1.2"/>
<ellipse cx="581.1" cy="801" rx="2.7" ry="3.2" fill="#fff" stroke-width="1.2"/>
<ellipse cx="518.2" cy="652.6" rx="1.8" ry="2" fill="#000" stroke-width="0.8"/>
<ellipse cx="574.8" cy="753.2" rx="1.8" ry="2" fill="#000" stroke-width="0.8"/>
<polyline points="594.9,680.3 601.2,714.2 597.4,778.4" stroke-width="1.1"/>
<polygon points="438.9,726.8 433.5,720 437.4,715.9 442.3,723.2" fill="#fff" stroke-width="1.1"/>
<polygon points="453.7,721.2 452.4,713.3 458.9,715.6 459.5,723.3" fill="#fff" stroke-width="1.1"/>
<polygon points="472.6,733.9 476,729.6 481.3,736.9 477.3,740.4" fill="#fff" stroke-width="1.1"/>
<polygon points="484.3,757.4 490.5,759.1 491.5,767.2 485.2,764.5" fill="#fff" stroke-width="1.1"/>
<polygon points="482,777.9 487.4,784.7 483.5,788.8 478.6,781.5" fill="#fff" stroke-width="1.1"/>
<polygon points="467.2,783.4 468.5,791.3 462,789 461.4,781.4" fill="#fff" stroke-width="1.1"/>
<polygon points="448.4,770.8 444.9,775.1 439.6,767.8 443.7,764.3" fill="#fff" stroke-width="1.1"/>
<polygon points="436.6,747.3 430.4,745.5 429.4,737.5 435.7,740.2" fill="#fff" stroke-width="1.1"/>
<polygon points="438.9,726.8 433.5,720 437.4,715.9 442.3,723.2" fill="#fff" stroke-width="1.1"/>
<ellipse cx="460.5" cy="752.3" rx="22.8" ry="38.2" transform="rotate(-30 460.5 752.3)" fill="#fff" stroke-width="1.1"/>
<polygon points="437,727.9 431.6,721.1 435.5,717 440.4,724.3" fill="#fff" stroke-width="1.4"/>
<polygon points="451.8,722.3 450.5,714.4 457,716.7 457.6,724.4" fill="#fff" stroke-width="1.4"/>
<polygon points="470.6,735 474.1,730.7 479.4,738 475.4,741.5" fill="#fff" stroke-width="1.4"/>
<polygon points="482.4,758.5 488.6,760.2 489.6,768.3 483.3,765.6" fill="#fff" stroke-width="1.4"/>
<polygon points="480.1,779 485.5,785.8 481.6,789.9 476.7,782.6" fill="#fff" stroke-width="1.4"/>
<polygon points="465.3,784.5 466.6,792.4 460.1,790.1 459.5,782.5" fill="#fff" stroke-width="1.4"/>
<polygon points="446.5,771.9 443,776.2 437.7,768.9 441.7,765.4" fill="#fff" stroke-width="1.4"/>
<polygon points="434.7,748.4 428.5,746.6 427.5,738.6 433.8,741.3" fill="#fff" stroke-width="1.4"/>
<polygon points="437,727.9 431.6,721.1 435.5,717 440.4,724.3" fill="#fff" stroke-width="1.4"/>
<path d="M477.7 786.5 A22.8 38.2 -30 1 0 439.4 720.4 A22.8 38.2 -30 1 0 477.7 786.5 Z M472.7 777.9 A16.2 28.2 -30 1 0 444.4 729 A16.2 28.2 -30 1 0 472.7 777.9 Z" fill="#fff" fill-rule="evenodd" stroke-width="1.5"/>
<ellipse cx="458.5" cy="753.4" rx="17.2" ry="29.7" transform="rotate(-30 458.5 753.4)" fill="none" stroke-width="0.8"/>
<ellipse cx="444.6" cy="761.9" rx="21.3" ry="36.7" transform="rotate(-30 444.6 761.9)" fill="#fff" stroke-width="1.1"/>
<path d="M461.1 794.7 A21.3 36.7 -30 1 0 424.3 731.2 A21.3 36.7 -30 1 0 461.1 794.7 Z M459.2 753.4 L461.5 757.8 L459.4 758.4 L461 762.4 L463.3 762.3 L464.5 766.9 L462.1 766.4 L462.8 770.4 L465.3 771.3 L465.5 775.5 L463 774.1 L462.6 777.6 L465.1 779.4 L464.2 782.9 L461.8 780.7 L460.5 783.4 L462.8 786 L460.8 788.4 L458.8 785.6 L456.7 787.2 L458.5 790.2 L455.7 791.4 L454.2 788.2 L451.5 788.6 L452.6 791.8 L449.2 791.6 L448.5 788.4 L445.4 787.6 L445.7 790.6 L442.2 789 L442.2 786.1 L439.1 784.1 L438.6 786.7 L435.2 783.8 L436 781.5 L433.1 778.5 L431.9 780.4 L428.9 776.6 L430.4 775.1 L428 771.4 L426.2 772.5 L423.9 768.1 L426 767.5 L424.4 763.5 L422.1 763.6 L420.9 759.1 L423.3 759.5 L422.6 755.6 L420.1 754.6 L419.9 750.4 L422.4 751.8 L422.8 748.3 L420.3 746.5 L421.2 743 L423.6 745.2 L424.9 742.5 L422.6 740 L424.6 737.5 L426.6 740.3 L428.7 738.7 L426.9 735.7 L429.7 734.5 L431.2 737.7 L433.9 737.3 L432.8 734.1 L436.2 734.3 L436.9 737.5 L440 738.4 L439.7 735.3 L443.2 736.9 L443.2 739.8 L446.3 741.9 L446.8 739.2 L450.2 742.1 L449.4 744.4 L452.3 747.4 L453.5 745.5 L456.5 749.3 L455 750.8 L457.4 754.5 Z" fill="#fff" fill-rule="evenodd" stroke-width="1.4"/>
<ellipse cx="442.7" cy="763" rx="19.3" ry="34.7" transform="rotate(-30 442.7 763)" fill="none" stroke-width="0.8"/>
<polygon points="407.2,745.8 401.8,739 405.7,734.9 410.6,742.2" fill="#fff" stroke-width="1.1"/>
<polygon points="422,740.3 420.7,732.4 427.2,734.7 427.8,742.3" fill="#fff" stroke-width="1.1"/>
<polygon points="440.9,753 444.3,748.6 449.6,755.9 445.6,759.4" fill="#fff" stroke-width="1.1"/>
<polygon points="452.6,776.4 458.8,778.2 459.8,786.2 453.5,783.5" fill="#fff" stroke-width="1.1"/>
<polygon points="450.3,796.9 455.7,803.8 451.8,807.8 446.9,800.5" fill="#fff" stroke-width="1.1"/>
<polygon points="435.5,802.5 436.8,810.4 430.3,808.1 429.7,800.4" fill="#fff" stroke-width="1.1"/>
<polygon points="416.7,789.8 413.2,794.2 407.9,786.8 412,783.3" fill="#fff" stroke-width="1.1"/>
<polygon points="404.9,766.3 398.7,764.6 397.7,756.5 404,759.2" fill="#fff" stroke-width="1.1"/>
<polygon points="407.2,745.8 401.8,739 405.7,734.9 410.6,742.2" fill="#fff" stroke-width="1.1"/>
<ellipse cx="428.8" cy="771.4" rx="22.8" ry="38.2" transform="rotate(-30 428.8 771.4)" fill="#fff" stroke-width="1.1"/>
<polygon points="405.3,746.9 399.9,740.1 403.8,736 408.7,743.3" fill="#fff" stroke-width="1.4"/>
<polygon points="420.1,741.4 418.8,733.5 425.3,735.8 425.9,743.4" fill="#fff" stroke-width="1.4"/>
<polygon points="438.9,754.1 442.4,749.7 447.7,757 443.7,760.5" fill="#fff" stroke-width="1.4"/>
<polygon points="450.7,777.5 456.9,779.3 457.9,787.3 451.6,784.6" fill="#fff" stroke-width="1.4"/>
<polygon points="448.4,798 453.8,804.9 449.9,808.9 445,801.6" fill="#fff" stroke-width="1.4"/>
<polygon points="433.6,803.6 434.9,811.5 428.4,809.2 427.8,801.5" fill="#fff" stroke-width="1.4"/>
<polygon points="414.8,790.9 411.3,795.3 406,787.9 410,784.4" fill="#fff" stroke-width="1.4"/>
<polygon points="403,767.4 396.8,765.7 395.8,757.6 402.1,760.3" fill="#fff" stroke-width="1.4"/>
<polygon points="405.3,746.9 399.9,740.1 403.8,736 408.7,743.3" fill="#fff" stroke-width="1.4"/>
<path d="M446 805.6 A22.8 38.2 -30 1 0 407.7 739.4 A22.8 38.2 -30 1 0 446 805.6 Z M441 796.9 A16.2 28.2 -30 1 0 412.7 748.1 A16.2 28.2 -30 1 0 441 796.9 Z" fill="#fff" fill-rule="evenodd" stroke-width="1.5"/>
<ellipse cx="426.9" cy="772.5" rx="17.2" ry="29.7" transform="rotate(-30 426.9 772.5)" fill="none" stroke-width="0.8"/>
<ellipse cx="412.9" cy="780.9" rx="21.3" ry="36.7" transform="rotate(-30 412.9 780.9)" fill="#fff" stroke-width="1.1"/>
<path d="M429.4 813.8 A21.3 36.7 -30 1 0 392.6 750.2 A21.3 36.7 -30 1 0 429.4 813.8 Z M427.5 772.5 L429.8 776.9 L427.7 777.4 L429.3 781.4 L431.6 781.4 L432.8 785.9 L430.4 785.5 L431.1 789.4 L433.6 790.3 L433.8 794.6 L431.3 793.2 L430.9 796.6 L433.4 798.5 L432.5 802 L430.1 799.8 L428.8 802.4 L431.1 805 L429.1 807.5 L427.1 804.6 L425 806.3 L426.8 809.3 L424 810.4 L422.5 807.3 L419.8 807.7 L420.9 810.9 L417.5 810.6 L416.8 807.4 L413.7 806.6 L414 809.7 L410.5 808 L410.5 805.1 L407.4 803.1 L406.9 805.7 L403.5 802.9 L404.3 800.6 L401.4 797.5 L400.2 799.5 L397.2 795.7 L398.7 794.2 L396.3 790.5 L394.5 791.5 L392.2 787.1 L394.3 786.6 L392.7 782.6 L390.4 782.6 L389.2 778.1 L391.6 778.5 L390.9 774.6 L388.4 773.7 L388.2 769.4 L390.7 770.8 L391.1 767.4 L388.6 765.5 L389.5 762 L391.9 764.2 L393.2 761.6 L390.9 759 L392.9 756.5 L394.9 759.4 L397 757.7 L395.2 754.7 L398 753.6 L399.5 756.7 L402.2 756.3 L401.1 753.1 L404.5 753.4 L405.2 756.6 L408.3 757.4 L408 754.3 L411.5 756 L411.5 758.9 L414.6 760.9 L415.1 758.3 L418.5 761.1 L417.7 763.4 L420.6 766.5 L421.8 764.5 L424.8 768.3 L423.3 769.8 L425.7 773.5 Z" fill="#fff" fill-rule="evenodd" stroke-width="1.4"/>
<ellipse cx="411" cy="782" rx="19.3" ry="34.7" transform="rotate(-30 411 782)" fill="none" stroke-width="0.8"/>
<polygon points="375.5,764.9 370.1,758 374,754 378.9,761.3" fill="#fff" stroke-width="1.1"/>
<polygon points="390.3,759.3 389,751.4 395.5,753.7 396.1,761.4" fill="#fff" stroke-width="1.1"/>
<polygon points="409.2,772 412.6,767.6 417.9,775 413.9,778.5" fill="#fff" stroke-width="1.1"/>
<polygon points="420.9,795.5 427.1,797.2 428.1,805.3 421.8,802.6" fill="#fff" stroke-width="1.1"/>
<polygon points="418.6,816 424,822.8 420.1,826.9 415.2,819.6" fill="#fff" stroke-width="1.1"/>
<polygon points="403.8,821.5 405.1,829.4 398.6,827.1 398,819.5" fill="#fff" stroke-width="1.1"/>
<polygon points="385,808.8 381.5,813.2 376.2,805.9 380.3,802.4" fill="#fff" stroke-width="1.1"/>
<polygon points="373.2,785.4 367,783.6 366,775.6 372.3,778.3" fill="#fff" stroke-width="1.1"/>
<polygon points="375.5,764.9 370.1,758 374,754 378.9,761.3" fill="#fff" stroke-width="1.1"/>
<ellipse cx="397.1" cy="790.4" rx="22.8" ry="38.2" transform="rotate(-30 397.1 790.4)" fill="#fff" stroke-width="1.1"/>
<polygon points="373.6,766 368.2,759.1 372.1,755.1 377,762.4" fill="#fff" stroke-width="1.4"/>
<polygon points="388.4,760.4 387.1,752.5 393.6,754.8 394.2,762.5" fill="#fff" stroke-width="1.4"/>
<polygon points="407.2,773.1 410.7,768.7 416,776.1 412,779.6" fill="#fff" stroke-width="1.4"/>
<polygon points="419,796.6 425.2,798.3 426.2,806.4 419.9,803.7" fill="#fff" stroke-width="1.4"/>
<polygon points="416.7,817.1 422.1,823.9 418.2,828 413.3,820.7" fill="#fff" stroke-width="1.4"/>
<polygon points="401.9,822.6 403.2,830.5 396.7,828.2 396.1,820.6" fill="#fff" stroke-width="1.4"/>
<polygon points="383.1,809.9 379.6,814.3 374.3,807 378.3,803.5" fill="#fff" stroke-width="1.4"/>
<polygon points="371.3,786.5 365.1,784.7 364.1,776.7 370.4,779.4" fill="#fff" stroke-width="1.4"/>
<polygon points="373.6,766 368.2,759.1 372.1,755.1 377,762.4" fill="#fff" stroke-width="1.4"/>
<path d="M414.3 824.6 A22.8 38.2 -30 1 0 376 758.4 A22.8 38.2 -30 1 0 414.3 824.6 Z M409.3 815.9 A16.2 28.2 -30 1 0 381 767.1 A16.2 28.2 -30 1 0 409.3 815.9 Z" fill="#fff" fill-rule="evenodd" stroke-width="1.5"/>
<ellipse cx="395.1" cy="791.5" rx="17.2" ry="29.7" transform="rotate(-30 395.1 791.5)" fill="none" stroke-width="0.8"/>
<ellipse cx="381.2" cy="799.9" rx="21.3" ry="36.7" transform="rotate(-30 381.2 799.9)" fill="#fff" stroke-width="1.1"/>
<path d="M397.7 832.8 A21.3 36.7 -30 1 0 360.9 769.3 A21.3 36.7 -30 1 0 397.7 832.8 Z M395.8 791.5 L398.1 795.9 L396 796.5 L397.6 800.5 L399.9 800.4 L401.1 804.9 L398.7 804.5 L399.4 808.4 L401.9 809.4 L402.1 813.6 L399.6 812.2 L399.2 815.7 L401.7 817.5 L400.8 821 L398.4 818.8 L397.1 821.5 L399.4 824 L397.4 826.5 L395.4 823.7 L393.3 825.3 L395.1 828.3 L392.3 829.5 L390.8 826.3 L388.1 826.7 L389.2 829.9 L385.8 829.7 L385.1 826.5 L382 825.6 L382.3 828.7 L378.8 827.1 L378.8 824.2 L375.7 822.1 L375.2 824.8 L371.8 821.9 L372.6 819.6 L369.7 816.6 L368.5 818.5 L365.5 814.7 L367 813.2 L364.6 809.5 L362.8 810.6 L360.5 806.2 L362.6 805.6 L361 801.6 L358.7 801.7 L357.5 797.1 L359.9 797.6 L359.2 793.6 L356.7 792.7 L356.5 788.5 L359 789.9 L359.4 786.4 L356.9 784.6 L357.8 781.1 L360.2 783.3 L361.5 780.6 L359.2 778 L361.2 775.6 L363.2 778.4 L365.3 776.8 L363.5 773.8 L366.3 772.6 L367.8 775.8 L370.5 775.4 L369.4 772.2 L372.8 772.4 L373.5 775.6 L376.6 776.4 L376.3 773.4 L379.8 775 L379.8 777.9 L382.9 779.9 L383.4 777.3 L386.8 780.2 L386 782.5 L388.9 785.5 L390.1 783.6 L393.1 787.4 L391.6 788.9 L394 792.6 Z" fill="#fff" fill-rule="evenodd" stroke-width="1.4"/>
<ellipse cx="379.3" cy="801" rx="19.3" ry="34.7" transform="rotate(-30 379.3 801)" fill="none" stroke-width="0.8"/>
<polygon points="343.8,783.9 338.4,777.1 342.3,773 347.2,780.3" fill="#fff" stroke-width="1.1"/>
<polygon points="358.6,778.4 357.3,770.5 363.8,772.8 364.4,780.4" fill="#fff" stroke-width="1.1"/>
<polygon points="377.5,791 380.9,786.7 386.2,794 382.2,797.5" fill="#fff" stroke-width="1.1"/>
<polygon points="389.2,814.5 395.4,816.3 396.4,824.3 390.1,821.6" fill="#fff" stroke-width="1.1"/>
<polygon points="386.9,835 392.3,841.8 388.4,845.9 383.5,838.6" fill="#fff" stroke-width="1.1"/>
<polygon points="372.1,840.6 373.4,848.5 366.9,846.2 366.3,838.5" fill="#fff" stroke-width="1.1"/>
<polygon points="353.3,827.9 349.8,832.2 344.5,824.9 348.6,821.4" fill="#fff" stroke-width="1.1"/>
<polygon points="341.5,804.4 335.3,802.7 334.3,794.6 340.6,797.3" fill="#fff" stroke-width="1.1"/>
<polygon points="343.8,783.9 338.4,777.1 342.3,773 347.2,780.3" fill="#fff" stroke-width="1.1"/>
<ellipse cx="365.4" cy="809.5" rx="22.8" ry="38.2" transform="rotate(-30 365.4 809.5)" fill="#fff" stroke-width="1.1"/>
<polygon points="341.9,785 336.5,778.2 340.4,774.1 345.3,781.4" fill="#fff" stroke-width="1.4"/>
<polygon points="356.7,779.5 355.4,771.6 361.9,773.9 362.5,781.5" fill="#fff" stroke-width="1.4"/>
<polygon points="375.5,792.1 379,787.8 384.3,795.1 380.3,798.6" fill="#fff" stroke-width="1.4"/>
<polygon points="387.3,815.6 393.5,817.4 394.5,825.4 388.2,822.7" fill="#fff" stroke-width="1.4"/>
<polygon points="385,836.1 390.4,842.9 386.5,847 381.6,839.7" fill="#fff" stroke-width="1.4"/>
<polygon points="370.2,841.7 371.5,849.6 365,847.3 364.4,839.6" fill="#fff" stroke-width="1.4"/>
<polygon points="351.4,829 347.9,833.3 342.6,826 346.6,822.5" fill="#fff" stroke-width="1.4"/>
<polygon points="339.6,805.5 333.4,803.8 332.4,795.7 338.7,798.4" fill="#fff" stroke-width="1.4"/>
<polygon points="341.9,785 336.5,778.2 340.4,774.1 345.3,781.4" fill="#fff" stroke-width="1.4"/>
<path d="M382.6 843.6 A22.8 38.2 -30 1 0 344.3 777.5 A22.8 38.2 -30 1 0 382.6 843.6 Z M377.6 835 A16.2 28.2 -30 1 0 349.3 786.1 A16.2 28.2 -30 1 0 377.6 835 Z" fill="#fff" fill-rule="evenodd" stroke-width="1.5"/>
<ellipse cx="363.4" cy="810.6" rx="17.2" ry="29.7" transform="rotate(-30 363.4 810.6)" fill="none" stroke-width="0.8"/>
<ellipse cx="349.5" cy="819" rx="21.3" ry="36.7" transform="rotate(-30 349.5 819)" fill="#fff" stroke-width="1.1"/>
<path d="M366 851.9 A21.3 36.7 -30 1 0 329.2 788.3 A21.3 36.7 -30 1 0 366 851.9 Z M364.1 810.6 L366.4 814.9 L364.3 815.5 L365.9 819.5 L368.2 819.5 L369.4 824 L367 823.5 L367.7 827.5 L370.2 828.4 L370.4 832.6 L367.9 831.2 L367.5 834.7 L370 836.6 L369.1 840.1 L366.7 837.8 L365.4 840.5 L367.7 843.1 L365.7 845.5 L363.7 842.7 L361.6 844.3 L363.4 847.4 L360.6 848.5 L359.1 845.4 L356.4 845.8 L357.5 849 L354.1 848.7 L353.4 845.5 L350.3 844.7 L350.6 847.7 L347.1 846.1 L347.1 843.2 L344 841.2 L343.5 843.8 L340.1 840.9 L340.9 838.6 L338 835.6 L336.8 837.6 L333.8 833.8 L335.3 832.2 L332.9 828.5 L331.1 829.6 L328.8 825.2 L330.9 824.6 L329.3 820.6 L327 820.7 L325.8 816.2 L328.2 816.6 L327.5 812.7 L325 811.7 L324.8 807.5 L327.3 808.9 L327.7 805.4 L325.2 803.6 L326.1 800.1 L328.5 802.3 L329.8 799.6 L327.5 797.1 L329.5 794.6 L331.5 797.5 L333.6 795.8 L331.8 792.8 L334.6 791.6 L336.1 794.8 L338.8 794.4 L337.7 791.2 L341.1 791.4 L341.8 794.6 L344.9 795.5 L344.6 792.4 L348.1 794.1 L348.1 796.9 L351.2 799 L351.7 796.3 L355.1 799.2 L354.3 801.5 L357.2 804.5 L358.4 802.6 L361.4 806.4 L359.9 807.9 L362.3 811.6 Z" fill="#fff" fill-rule="evenodd" stroke-width="1.4"/>
<ellipse cx="347.6" cy="820.1" rx="19.3" ry="34.7" transform="rotate(-30 347.6 820.1)" fill="none" stroke-width="0.8"/>
<polygon points="312.1,803 306.7,796.1 310.6,792.1 315.5,799.4" fill="#fff" stroke-width="1.1"/>
<polygon points="326.9,797.4 325.6,789.5 332.1,791.8 332.7,799.4" fill="#fff" stroke-width="1.1"/>
<polygon points="345.8,810.1 349.2,805.7 354.5,813.1 350.5,816.5" fill="#fff" stroke-width="1.1"/>
<polygon points="357.5,833.5 363.7,835.3 364.7,843.3 358.4,840.7" fill="#fff" stroke-width="1.1"/>
<polygon points="355.2,854 360.6,860.9 356.7,864.9 351.8,857.6" fill="#fff" stroke-width="1.1"/>
<polygon points="340.4,859.6 341.7,867.5 335.2,865.2 334.6,857.6" fill="#fff" stroke-width="1.1"/>
<polygon points="321.6,846.9 318.1,851.3 312.8,843.9 316.9,840.5" fill="#fff" stroke-width="1.1"/>
<polygon points="309.8,823.5 303.6,821.7 302.6,813.7 308.9,816.3" fill="#fff" stroke-width="1.1"/>
<polygon points="312.1,803 306.7,796.1 310.6,792.1 315.5,799.4" fill="#fff" stroke-width="1.1"/>
<ellipse cx="333.7" cy="828.5" rx="22.8" ry="38.2" transform="rotate(-30 333.7 828.5)" fill="#fff" stroke-width="1.1"/>
<polygon points="310.2,804.1 304.8,797.2 308.7,793.2 313.6,800.5" fill="#fff" stroke-width="1.4"/>
<polygon points="325,798.5 323.7,790.6 330.2,792.9 330.8,800.5" fill="#fff" stroke-width="1.4"/>
<polygon points="343.8,811.2 347.3,806.8 352.6,814.2 348.6,817.6" fill="#fff" stroke-width="1.4"/>
<polygon points="355.6,834.6 361.8,836.4 362.8,844.4 356.5,841.8" fill="#fff" stroke-width="1.4"/>
<polygon points="353.3,855.1 358.7,862 354.8,866 349.9,858.7" fill="#fff" stroke-width="1.4"/>
<polygon points="338.5,860.7 339.8,868.6 333.3,866.3 332.7,858.7" fill="#fff" stroke-width="1.4"/>
<polygon points="319.7,848 316.2,852.4 310.9,845 314.9,841.6" fill="#fff" stroke-width="1.4"/>
<polygon points="307.9,824.6 301.7,822.8 300.7,814.8 307,817.4" fill="#fff" stroke-width="1.4"/>
<polygon points="310.2,804.1 304.8,797.2 308.7,793.2 313.6,800.5" fill="#fff" stroke-width="1.4"/>
<path d="M350.9 862.7 A22.8 38.2 -30 1 0 312.6 796.5 A22.8 38.2 -30 1 0 350.9 862.7 Z M345.9 854 A16.2 28.2 -30 1 0 317.6 805.2 A16.2 28.2 -30 1 0 345.9 854 Z" fill="#fff" fill-rule="evenodd" stroke-width="1.5"/>
<ellipse cx="331.8" cy="829.6" rx="17.2" ry="29.7" transform="rotate(-30 331.8 829.6)" fill="none" stroke-width="0.8"/>
<ellipse cx="317.8" cy="838" rx="21.3" ry="36.7" transform="rotate(-30 317.8 838)" fill="#fff" stroke-width="1.1"/>
<path d="M334.3 870.9 A21.3 36.7 -30 1 0 297.5 807.3 A21.3 36.7 -30 1 0 334.3 870.9 Z M332.4 829.6 L334.7 834 L332.6 834.6 L334.2 838.6 L336.5 838.5 L337.7 843 L335.3 842.6 L336 846.5 L338.5 847.5 L338.7 851.7 L336.2 850.3 L335.8 853.8 L338.3 855.6 L337.4 859.1 L335 856.9 L333.7 859.6 L336 862.1 L334 864.6 L332 861.7 L329.9 863.4 L331.7 866.4 L328.9 867.6 L327.4 864.4 L324.7 864.8 L325.8 868 L322.4 867.8 L321.7 864.6 L318.6 863.7 L318.9 866.8 L315.4 865.1 L315.4 862.3 L312.3 860.2 L311.8 862.9 L308.4 860 L309.2 857.7 L306.3 854.7 L305.1 856.6 L302.1 852.8 L303.6 851.3 L301.2 847.6 L299.4 848.6 L297.1 844.3 L299.2 843.7 L297.6 839.7 L295.3 839.7 L294.1 835.2 L296.5 835.7 L295.8 831.7 L293.3 830.8 L293.1 826.6 L295.6 828 L296 824.5 L293.5 822.6 L294.4 819.1 L296.8 821.4 L298.1 818.7 L295.8 816.1 L297.8 813.7 L299.8 816.5 L301.9 814.9 L300.1 811.8 L302.9 810.7 L304.4 813.8 L307.1 813.4 L306 810.2 L309.4 810.5 L310.1 813.7 L313.2 814.5 L312.9 811.5 L316.4 813.1 L316.4 816 L319.5 818 L320 815.4 L323.4 818.3 L322.6 820.6 L325.5 823.6 L326.7 821.6 L329.7 825.4 L328.2 827 L330.6 830.7 Z" fill="#fff" fill-rule="evenodd" stroke-width="1.4"/>
<ellipse cx="315.9" cy="839.1" rx="19.3" ry="34.7" transform="rotate(-30 315.9 839.1)" fill="none" stroke-width="0.8"/>
<polygon points="280.4,822 275,815.2 278.9,811.1 283.8,818.4" fill="#fff" stroke-width="1.1"/>
<polygon points="295.2,816.4 293.9,808.5 300.4,810.8 301,818.5" fill="#fff" stroke-width="1.1"/>
<polygon points="314.1,829.1 317.5,824.8 322.8,832.1 318.8,835.6" fill="#fff" stroke-width="1.1"/>
<polygon points="325.8,852.6 332,854.3 333,862.4 326.7,859.7" fill="#fff" stroke-width="1.1"/>
<polygon points="323.5,873.1 328.9,879.9 325,884 320.1,876.7" fill="#fff" stroke-width="1.1"/>
<polygon points="308.7,878.6 310,886.5 303.5,884.2 302.9,876.6" fill="#fff" stroke-width="1.1"/>
<polygon points="289.9,866 286.4,870.3 281.1,863 285.2,859.5" fill="#fff" stroke-width="1.1"/>
<polygon points="278.1,842.5 271.9,840.7 270.9,832.7 277.2,835.4" fill="#fff" stroke-width="1.1"/>
<polygon points="280.4,822 275,815.2 278.9,811.1 283.8,818.4" fill="#fff" stroke-width="1.1"/>
<ellipse cx="302" cy="847.5" rx="22.8" ry="38.2" transform="rotate(-30 302 847.5)" fill="#fff" stroke-width="1.1"/>
<polygon points="278.5,823.1 273.1,816.3 277,812.2 281.9,819.5" fill="#fff" stroke-width="1.4"/>
<polygon points="293.3,817.5 292,809.6 298.5,811.9 299.1,819.6" fill="#fff" stroke-width="1.4"/>
<polygon points="312.1,830.2 315.6,825.9 320.9,833.2 316.9,836.7" fill="#fff" stroke-width="1.4"/>
<polygon points="323.9,853.7 330.1,855.4 331.1,863.5 324.8,860.8" fill="#fff" stroke-width="1.4"/>
<polygon points="321.6,874.2 327,881 323.1,885.1 318.2,877.8" fill="#fff" stroke-width="1.4"/>
<polygon points="306.8,879.7 308.1,887.6 301.6,885.3 301,877.7" fill="#fff" stroke-width="1.4"/>
<polygon points="288,867.1 284.5,871.4 279.2,864.1 283.2,860.6" fill="#fff" stroke-width="1.4"/>
<polygon points="276.2,843.6 270,841.8 269,833.8 275.3,836.5" fill="#fff" stroke-width="1.4"/>
<polygon points="278.5,823.1 273.1,816.3 277,812.2 281.9,819.5" fill="#fff" stroke-width="1.4"/>
<path d="M319.2 881.7 A22.8 38.2 -30 1 0 280.9 815.6 A22.8 38.2 -30 1 0 319.2 881.7 Z M314.2 873.1 A16.2 28.2 -30 1 0 285.9 824.2 A16.2 28.2 -30 1 0 314.2 873.1 Z" fill="#fff" fill-rule="evenodd" stroke-width="1.5"/>
<ellipse cx="300.1" cy="848.6" rx="17.2" ry="29.7" transform="rotate(-30 300.1 848.6)" fill="none" stroke-width="0.8"/>
<ellipse cx="286.1" cy="857.1" rx="21.3" ry="36.7" transform="rotate(-30 286.1 857.1)" fill="#fff" stroke-width="1.1"/>
<path d="M302.6 889.9 A21.3 36.7 -30 1 0 265.8 826.4 A21.3 36.7 -30 1 0 302.6 889.9 Z M300.7 848.6 L303 853 L300.9 853.6 L302.5 857.6 L304.8 857.5 L306 862.1 L303.6 861.6 L304.3 865.6 L306.8 866.5 L307 870.7 L304.5 869.3 L304.1 872.8 L306.6 874.6 L305.7 878.1 L303.3 875.9 L302 878.6 L304.3 881.2 L302.3 883.6 L300.3 880.8 L298.2 882.4 L300 885.4 L297.2 886.6 L295.7 883.4 L293 883.8 L294.1 887 L290.7 886.8 L290 883.6 L286.9 882.8 L287.2 885.8 L283.7 884.2 L283.7 881.3 L280.6 879.3 L280.1 881.9 L276.7 879 L277.5 876.7 L274.6 873.7 L273.4 875.6 L270.4 871.8 L271.9 870.3 L269.5 866.6 L267.7 867.7 L265.4 863.3 L267.5 862.7 L265.9 858.7 L263.6 858.8 L262.4 854.3 L264.8 854.7 L264.1 850.8 L261.6 849.8 L261.4 845.6 L263.9 847 L264.3 843.5 L261.8 841.7 L262.7 838.2 L265.1 840.4 L266.4 837.7 L264.1 835.2 L266.1 832.7 L268.1 835.5 L270.2 833.9 L268.4 830.9 L271.2 829.7 L272.7 832.9 L275.4 832.5 L274.3 829.3 L277.7 829.5 L278.4 832.7 L281.5 833.6 L281.2 830.5 L284.7 832.1 L284.7 835 L287.8 837.1 L288.3 834.4 L291.7 837.3 L290.9 839.6 L293.8 842.6 L295 840.7 L298 844.5 L296.5 846 L298.9 849.7 Z" fill="#fff" fill-rule="evenodd" stroke-width="1.4"/>
<ellipse cx="284.2" cy="858.2" rx="19.3" ry="34.7" transform="rotate(-30 284.2 858.2)" fill="none" stroke-width="0.8"/>
<polygon points="248.7,841 243.3,834.2 247.2,830.1 252.1,837.4" fill="#fff" stroke-width="1.1"/>
<polygon points="263.5,835.5 262.2,827.6 268.7,829.9 269.3,837.5" fill="#fff" stroke-width="1.1"/>
<polygon points="282.4,848.2 285.8,843.8 291.1,851.1 287.1,854.6" fill="#fff" stroke-width="1.1"/>
<polygon points="294.1,871.6 300.3,873.4 301.3,881.4 295,878.7" fill="#fff" stroke-width="1.1"/>
<polygon points="291.8,892.1 297.2,899 293.3,903 288.4,895.7" fill="#fff" stroke-width="1.1"/>
<polygon points="277,897.7 278.3,905.6 271.8,903.3 271.2,895.6" fill="#fff" stroke-width="1.1"/>
<polygon points="258.2,885 254.7,889.4 249.4,882 253.5,878.5" fill="#fff" stroke-width="1.1"/>
<polygon points="246.4,861.5 240.2,859.8 239.2,851.7 245.5,854.4" fill="#fff" stroke-width="1.1"/>
<polygon points="248.7,841 243.3,834.2 247.2,830.1 252.1,837.4" fill="#fff" stroke-width="1.1"/>
<ellipse cx="270.3" cy="866.6" rx="22.8" ry="38.2" transform="rotate(-30 270.3 866.6)" fill="#fff" stroke-width="1.1"/>
<polygon points="246.8,842.1 241.4,835.3 245.3,831.2 250.2,838.5" fill="#fff" stroke-width="1.4"/>
<polygon points="261.6,836.6 260.3,828.7 266.8,831 267.4,838.6" fill="#fff" stroke-width="1.4"/>
<polygon points="280.4,849.3 283.9,844.9 289.2,852.2 285.2,855.7" fill="#fff" stroke-width="1.4"/>
<polygon points="292.2,872.7 298.4,874.5 299.4,882.5 293.1,879.8" fill="#fff" stroke-width="1.4"/>
<polygon points="289.9,893.2 295.3,900.1 291.4,904.1 286.5,896.8" fill="#fff" stroke-width="1.4"/>
<polygon points="275.1,898.8 276.4,906.7 269.9,904.4 269.3,896.7" fill="#fff" stroke-width="1.4"/>
<polygon points="256.3,886.1 252.8,890.5 247.5,883.1 251.5,879.6" fill="#fff" stroke-width="1.4"/>
<polygon points="244.5,862.6 238.3,860.9 237.3,852.8 243.6,855.5" fill="#fff" stroke-width="1.4"/>
<polygon points="246.8,842.1 241.4,835.3 245.3,831.2 250.2,838.5" fill="#fff" stroke-width="1.4"/>
<path d="M287.5 900.8 A22.8 38.2 -30 1 0 249.2 834.6 A22.8 38.2 -30 1 0 287.5 900.8 Z M282.5 892.1 A16.2 28.2 -30 1 0 254.2 843.3 A16.2 28.2 -30 1 0 282.5 892.1 Z" fill="#fff" fill-rule="evenodd" stroke-width="1.5"/>
<ellipse cx="268.4" cy="867.7" rx="17.2" ry="29.7" transform="rotate(-30 268.4 867.7)" fill="none" stroke-width="0.8"/>
<path d="M272.8 907.9 A21.3 36.7 -30 1 0 236.1 844.3 A21.3 36.7 -30 1 0 272.8 907.9 Z M268 899.7 A15.3 27.2 -30 1 0 240.8 852.5 A15.3 27.2 -30 1 0 268 899.7 Z" fill="#fff" fill-rule="evenodd" stroke-width="1.1"/>
<path d="M270.9 909 A21.3 36.7 -30 1 0 234.1 845.4 A21.3 36.7 -30 1 0 270.9 909 Z M269 867.7 L271.3 872.1 L269.2 872.6 L270.8 876.6 L273.1 876.6 L274.3 881.1 L271.9 880.7 L272.6 884.6 L275.1 885.5 L275.3 889.8 L272.8 888.4 L272.4 891.8 L274.9 893.7 L274 897.2 L271.6 895 L270.3 897.6 L272.6 900.2 L270.6 902.7 L268.6 899.8 L266.5 901.5 L268.3 904.5 L265.5 905.6 L264 902.5 L261.3 902.9 L262.4 906.1 L259 905.8 L258.3 902.6 L255.2 901.8 L255.5 904.9 L252 903.2 L252 900.3 L248.9 898.3 L248.4 900.9 L245 898.1 L245.8 895.8 L242.9 892.7 L241.7 894.7 L238.7 890.9 L240.2 889.4 L237.8 885.7 L236 886.7 L233.7 882.3 L235.8 881.8 L234.2 877.8 L231.9 877.8 L230.7 873.3 L233.1 873.7 L232.4 869.8 L229.9 868.9 L229.7 864.6 L232.2 866 L232.6 862.6 L230.1 860.7 L231 857.2 L233.4 859.4 L234.7 856.8 L232.4 854.2 L234.4 851.7 L236.4 854.6 L238.5 852.9 L236.7 849.9 L239.5 848.8 L241 851.9 L243.7 851.5 L242.6 848.3 L246 848.6 L246.7 851.8 L249.8 852.6 L249.5 849.5 L253 851.2 L253 854.1 L256.1 856.1 L256.6 853.5 L260 856.3 L259.2 858.6 L262.1 861.7 L263.3 859.7 L266.3 863.5 L264.8 865 L267.2 868.7 Z" fill="#fff" fill-rule="evenodd" stroke-width="1.4"/>
<ellipse cx="252.5" cy="877.2" rx="19.3" ry="34.7" transform="rotate(-30 252.5 877.2)" fill="none" stroke-width="0.8"/>
<polygon points="187,877.3 181.5,871.5 183.6,867.5 188.9,873.8" fill="#fff" stroke-width="1.4"/>
<polygon points="194.4,869.3 190.8,861.7 194.9,860.8 198.1,868.5" fill="#fff" stroke-width="1.4"/>
<polygon points="234.4,924.7 239.9,930.5 237.8,934.5 232.5,928.2" fill="#fff" stroke-width="1.4"/>
<path d="M230.5 935.4 A22.8 39.7 -30 1 0 190.9 866.6 A22.8 39.7 -30 1 0 230.5 935.4 Z M225 925.8 A15.4 28.7 -30 1 0 196.4 876.2 A15.4 28.7 -30 1 0 225 925.8 Z" fill="#fff" fill-rule="evenodd" stroke-width="1.6"/>
<ellipse cx="210.7" cy="901" rx="16.8" ry="30.7" transform="rotate(-30 210.7 901)" fill="none" stroke-width="0.9"/>
<polygon points="158,951.7 156.2,949.8 154.5,947.7 152.8,945.6 151.2,943.4 149.6,941 148.2,938.7 146.9,936.2 145.6,933.8 144.5,931.3 143.5,928.7 142.6,926.2 141.8,923.7 141.2,921.2 140.7,918.7 140.3,916.2 140,913.9 139.9,911.5 139.9,909.3 140.1,907.1 140.4,905.1 140.8,903.1 141.4,901.3 142.1,899.6 142.9,898 143.8,896.6 144.9,895.3 146,894.2 147.3,893.2 148.7,892.5 150.2,891.8 151.7,891.4 153.4,891.1 155.1,891 156.8,891.1 158.6,891.3 160.5,891.8 162.4,892.4 164.3,893.1 166.3,894.1 168.2,895.2 170.2,896.4 172.1,897.8 174.1,899.4 175.9,901.1 177.8,902.9 179.6,904.8 181.3,906.9 183,909 184.6,911.2 186.2,913.6 187.6,915.9 188.9,918.4 190.2,920.8 191.3,923.3 192.3,925.9 193.2,928.4 194,930.9 194.6,933.4 195.1,935.9 195.5,938.4 195.8,940.7 195.9,943.1 195.9,945.3 195.7,947.5 195.4,949.5 195,951.5 194.4,953.3 193.7,955 192.9,956.6 192,958 190.9,959.3 189.8,960.4 188.5,961.4 187.1,962.1 185.6,962.8 184.1,963.2 182.4,963.5 180.7,963.6 179,963.5 177.9,960.4 179.5,960.6 181.1,960.5 182.5,960.3 183.9,960 185.3,959.5 186.5,958.8 187.7,958 188.7,957 189.7,955.9 190.5,954.7 191.2,953.3 191.9,951.8 192.4,950.1 192.8,948.4 193,946.6 193.2,944.6 193.2,942.6 193.1,940.5 192.8,938.3 192.5,936.1 192,933.9 191.4,931.6 190.7,929.3 189.9,926.9 189,924.6 188,922.3 186.9,920 185.7,917.8 184.4,915.6 183,913.4 181.5,911.4 180,909.4 178.4,907.5 176.8,905.6 175.1,903.9 173.4,902.3 171.7,900.9 169.9,899.5 168.2,898.3 166.4,897.2 164.7,896.3 162.9,895.6 161.2,894.9 159.5,894.5 157.9,894.2 156.3,894 154.7,894.1 153.3,894.3 151.9,894.6 150.5,895.1 149.3,895.8 148.1,896.6 147.1,897.6 146.1,898.7 145.3,899.9 144.6,901.3 143.9,902.8 143.4,904.5 143,906.2 142.8,908 142.6,910 142.6,912 142.7,914.1 143,916.3 143.3,918.5 143.8,920.7 144.4,923 145.1,925.3 145.9,927.7 146.8,930 147.8,932.3 148.9,934.6 150.1,936.8 151.4,939 152.8,941.2 154.3,943.2 155.8,945.2 157.4,947.1 159,949" fill="#fff" stroke-width="1.5"/>
<ellipse cx="160" cy="949" rx="3" ry="2.6" fill="#fff" stroke-width="1.3"/>
<ellipse cx="173" cy="956" rx="3" ry="2.6" fill="#fff" stroke-width="1.3"/>
<circle cx="498.8" cy="1030.7" r="43" fill="#fff" stroke-width="1.6"/>
<polygon points="468.7,1045.4 526.1,1014.7 536.1,1033.4 478,1065.5" fill="#fff" stroke-width="1.3"/>
<ellipse cx="531.1" cy="1024" rx="4" ry="10" transform="rotate(-28 531.1 1024)" fill="#fff" stroke-width="1.3"/>
<ellipse cx="473" cy="1055.5" rx="4.5" ry="10.5" transform="rotate(-28 473 1055.5)" fill="#fff" stroke-width="1.3"/>
<polyline points="470,1057 534,1022" stroke-width="1" stroke-dasharray="8 3 1.5 3"/>
<path d="M470 1006.7 L490 996 L492 998.7 L475.4 1008 L475.4 1010.7 L483.4 1024 L486.7 1026 L483 1030 L477 1022 L470 1010 Z" fill="#fff" stroke-width="1.6"/>
<path d="M486 1024 C488 1018 494 1016 498 1019 C501 1022 500 1027 496 1029 L490 1031 Z" fill="#000" stroke-width="1"/>
<polygon points="536.8,1046.8 535.5,1056.1 583.6,1072.2" fill="#000" stroke-width="0.6"/>
<polyline points="577,1076.8 591.8,1070" stroke-width="1.3"/>
<polyline points="577,1076.8 576,1073" stroke-width="1.2"/>
<polyline points="591.8,1070 590.8,1066.5" stroke-width="1.2"/>
<polygon points="328.2,1246.5 467.4,1161.7 479.5,1186 334.2,1267.7" fill="#fff" stroke-width="1.6"/>
<ellipse cx="331.2" cy="1257.1" rx="7.1" ry="13.3" transform="rotate(-30 331.2 1257.1)" fill="#fff" stroke-width="1.6"/>
<polyline points="332.9,1249 398.9,1209" stroke-width="1.0"/>
<polyline points="333.7,1251.8 399.7,1211.8" stroke-width="1.0"/>
<polyline points="334.5,1254.6 400.5,1214.6" stroke-width="1.0"/>
<polyline points="335.3,1257.3 401.3,1217.3" stroke-width="1.0"/>
<polyline points="336,1260.1 402,1220.1" stroke-width="1.0"/>
<polyline points="336.8,1262.8 402.8,1222.8" stroke-width="1.0"/>
<polyline points="337.6,1265.6 403.6,1225.6" stroke-width="1.0"/>
<polyline points="400,1210 410,1228" stroke-width="1.1"/>
<polyline points="438,1181 450,1203" stroke-width="1.2"/>
<polyline points="445,1176 456,1199" stroke-width="1.2"/>
<path d="M528.6 1105.8 L533.8 1099.4 L550.5 1094.8 L558.3 1096.8 L577.7 1102 L584.1 1108.4 L588 1118.7 L584.1 1131.6 L577.7 1142 L567.3 1156.2 L555.7 1160 L540 1150 Z" fill="#fff" stroke-width="1.6"/>
<ellipse cx="582" cy="1117" rx="6.5" ry="17.5" transform="rotate(-18 582 1117)" fill="#fff" stroke-width="1.5"/>
<ellipse cx="582" cy="1117" rx="4.5" ry="15" transform="rotate(-18 582 1117)" fill="none" stroke-width="1.1"/>
<ellipse cx="544.7" cy="1104.5" rx="11" ry="6.5" transform="rotate(-15 544.7 1104.5)" fill="#fff" stroke-width="1.6"/>
<ellipse cx="544.7" cy="1103.5" rx="9" ry="4.5" transform="rotate(-15 544.7 1103.5)" fill="none" stroke-width="1.0"/>
<polyline points="556,1108 577,1103" stroke-width="1.1"/>
<polyline points="555,1121 578,1116" stroke-width="1.1"/>
<polygon points="555,1124 577,1114 580,1130 560,1140" fill="#fff" stroke-width="1.2"/>
<polyline points="560,1136 564,1124" stroke-width="1.3"/>
<polyline points="564,1134 568,1122" stroke-width="1.3"/>
<polyline points="568,1132 572,1120" stroke-width="1.3"/>
<polyline points="572,1130 576,1118" stroke-width="1.3"/>
<ellipse cx="569.3" cy="1145.3" rx="8" ry="10" transform="rotate(20 569.3 1145.3)" fill="#fff" stroke-width="1.6"/>
<ellipse cx="570" cy="1145" rx="6" ry="8" transform="rotate(20 570 1145)" fill="none" stroke-width="1.0"/>
<path d="M467.9 1148.4 C472 1140 478 1134 492.4 1122.6 C500 1116 505 1112 511.8 1110.3 C520 1108 528 1108 532.5 1109.7 C537 1111 540 1114 542.8 1117.4 C548 1124 551 1128 553.1 1134.2 C556 1142 557 1150 557 1157.5 C557 1162 556 1165 554.4 1167.8 L522.1 1183.3 L504 1189.7 C498 1191 492 1190 487.3 1188.5 Z" fill="#fff" stroke-width="1.6"/>
<path d="M511.8 1110.3 C525 1112 540 1135 543 1160 C544 1170 542 1178 538 1182" fill="none" stroke-width="1.5"/>
<path d="M528 1108.5 C545 1115 555 1140 556 1160" fill="none" stroke-width="1.1"/>
<path d="M486 1140 C492 1146 505 1146 510 1145 C502 1152 498 1165 500 1188" fill="none" stroke-width="1.3"/>
<path d="M510 1145 C515 1150 518 1160 516 1178" fill="none" stroke-width="1.1"/>
<path d="M480 1150 C485 1160 488 1175 487 1188" fill="none" stroke-width="1.1"/>
<ellipse cx="506" cy="1126.5" rx="13.5" ry="7.5" transform="rotate(-15 506 1126.5)" fill="#fff" stroke-width="1.6"/>
<ellipse cx="506" cy="1125" rx="11" ry="5.5" transform="rotate(-15 506 1125)" fill="none" stroke-width="1.0"/>
<ellipse cx="530" cy="1166.8" rx="9.5" ry="10.5" transform="rotate(20 530 1166.8)" fill="#fff" stroke-width="1.6"/>
<ellipse cx="531" cy="1166.5" rx="7" ry="8" transform="rotate(20 531 1166.5)" fill="none" stroke-width="1.0"/>
<ellipse cx="480.1" cy="1168.3" rx="6.9" ry="24.3" transform="rotate(-30 480.1 1168.3)" fill="#fff" stroke-width="1.6"/>
<ellipse cx="479.5" cy="1168" rx="4.6" ry="19.5" transform="rotate(-30 479.5 1168)" fill="none" stroke-width="1.1"/>
<ellipse cx="479" cy="1168.5" rx="2.2" ry="15.5" transform="rotate(-30 479 1168.5)" fill="none" stroke-width="1.0"/>
<ellipse cx="576.5" cy="1204" rx="10.7" ry="11.6" transform="rotate(-30 576.5 1204)" fill="#fff" stroke-width="1.6"/>
<polygon points="578.8,1216 582.2,1214 570.7,1194 567.2,1196" fill="#fff" stroke="none"/>
<polyline points="578.8,1216 582.2,1214" stroke-width="1.6"/>
<polyline points="567.2,1196 570.7,1194" stroke-width="1.6"/>
<ellipse cx="573" cy="1206" rx="10.7" ry="11.6" transform="rotate(-30 573 1206)" fill="#fff" stroke-width="1.6"/>
<path d="M578.3 1215.2 A9.7 10.6 -30 1 0 567.7 1196.8 A9.7 10.6 -30 1 0 578.3 1215.2 Z M576.3 1211.7 A6.2 6.6 -30 1 0 569.7 1200.3 A6.2 6.6 -30 1 0 576.3 1211.7 Z" fill="#fff" fill-rule="evenodd" stroke-width="1.5"/>
<ellipse cx="573" cy="1206" rx="4.2" ry="5.2" transform="rotate(-30 573 1206)" fill="#000" stroke-width="0.6"/>
<ellipse cx="573" cy="1206" rx="2.2" ry="3.2" transform="rotate(-30 573 1206)" fill="#fff" stroke-width="0.6"/>
<ellipse cx="596.6" cy="1191.5" rx="8.6" ry="12.9" transform="rotate(-30 596.6 1191.5)" fill="#fff" stroke-width="1.6"/>
<polygon points="600.5,1204.2 603.1,1202.7 590.1,1180.3 587.5,1181.8" fill="#fff" stroke="none"/>
<polyline points="600.5,1204.2 603.1,1202.7" stroke-width="1.6"/>
<polyline points="587.5,1181.8 590.1,1180.3" stroke-width="1.6"/>
<ellipse cx="594" cy="1193" rx="8.6" ry="12.9" transform="rotate(-30 594 1193)" fill="#fff" stroke-width="1.6"/>
<path d="M600.5 1204.2 A8.6 12.9 -30 1 0 587.5 1181.8 A8.6 12.9 -30 1 0 600.5 1204.2 Z M598.5 1200.7 A5.1 8.9 -30 1 0 589.5 1185.3 A5.1 8.9 -30 1 0 598.5 1200.7 Z" fill="#fff" fill-rule="evenodd" stroke-width="1.6"/>
<ellipse cx="612.8" cy="1180.7" rx="7.1" ry="8.7" transform="rotate(-30 612.8 1180.7)" fill="none" stroke-width="1.5"/>
<ellipse cx="307" cy="1273" rx="9.9" ry="14.8" transform="rotate(-30 307 1273)" fill="none" stroke-width="1.6"/>
<ellipse cx="285.6" cy="1286.5" rx="9.5" ry="15.8" transform="rotate(-30 285.6 1286.5)" fill="none" stroke-width="1.6"/>
<polygon points="181.6,1317.3 205.6,1280 211.9,1283.5 211.4,1288 245.7,1268.4 251.9,1271.9 251.9,1300.4 211,1323.6 211.4,1334.3" fill="#fff" stroke-width="1.9"/>
<polyline points="188.7,1319 209.6,1285.3" stroke-width="1.0"/>
<polyline points="181.6,1317.3 188.7,1319" stroke-width="1.2"/>
<polyline points="205.6,1280 209.6,1285.3" stroke-width="1.0"/>
<polyline points="211,1295.5 250,1272.8" stroke-width="1.0"/>
<polyline points="245.7,1268.4 250,1272.8" stroke-width="1.0"/>
<text transform="translate(211 1320.5) skewY(-30) scale(0.66 1)" style="font-family:'Liberation Sans',sans-serif;font-weight:bold;font-size:25px" fill="#000" stroke="#000" stroke-width="0.7">FWD</text>
<polygon points="158.5,1349.8 162.5,1349.8 162.5,1351 158.5,1351" fill="#999" stroke="none"/>
<polygon points="170,1349.8 174,1349.8 174,1351 170,1351" fill="#999" stroke="none"/>
<polygon points="252.5,1349.8 261,1349.8 261,1351 252.5,1351" fill="#999" stroke="none"/>
<polyline points="1008.8,844.1 1010.4,843.5 1012.2,843.4 1014.1,843.7 1016,844.5 1018,845.8 1019.8,847.4 1021.5,849.4 1022.9,851.5 1024.1,853.9 1025,856.3 1025.5,858.8 1025.6,861.1 1025.3,863.2 1024.6,865 1023.6,866.4 1022.3,867.5 1020.8,868.1 1019,868.2 1017.1,867.9 1015.2,867.1 1013.2,865.8 1011.4,864.2 1009.7,862.2 1008.2,860" stroke-width="1.6"/>
<polyline points="1004.9,846.4 1006.5,845.8 1008.3,845.6 1010.2,846 1012.1,846.8 1014.1,848 1015.9,849.6 1017.6,851.6 1019.1,853.8 1020.2,856.2 1021.1,858.6 1021.6,861 1021.7,863.3 1021.4,865.4 1020.7,867.2 1019.7,868.7 1018.4,869.7 1016.9,870.3 1015.1,870.5 1013.2,870.1 1011.3,869.3 1009.3,868.1 1007.5,866.5 1005.8,864.5 1004.3,862.3" stroke-width="1.6"/>
<polyline points="1001,848.6 1002.6,848 1004.4,847.9 1006.3,848.2 1008.2,849 1010.2,850.3 1012,851.9 1013.7,853.9 1015.2,856 1016.3,858.4 1017.2,860.8 1017.7,863.3 1017.8,865.6 1017.5,867.7 1016.8,869.5 1015.9,870.9 1014.5,872 1013,872.6 1011.2,872.7 1009.3,872.4 1007.4,871.6 1005.4,870.3 1003.6,868.7 1001.9,866.7 1000.4,864.5" stroke-width="1.6"/>
<polyline points="997.1,850.9 998.7,850.3 1000.5,850.1 1002.4,850.5 1004.3,851.3 1006.3,852.5 1008.1,854.1 1009.8,856.1 1011.3,858.3 1012.4,860.7 1013.3,863.1 1013.8,865.5 1013.9,867.8 1013.6,869.9 1013,871.7 1012,873.2 1010.6,874.2 1009.1,874.8 1007.3,875 1005.4,874.6 1003.5,873.8 1001.5,872.6 999.7,871 998,869 996.5,866.8" stroke-width="1.6"/>
<polyline points="993.2,853.1 994.8,852.5 996.6,852.4 998.5,852.7 1000.4,853.5 1002.4,854.8 1004.2,856.4 1005.9,858.4 1007.4,860.5 1008.5,862.9 1009.4,865.3 1009.9,867.8 1010,870.1 1009.7,872.2 1009.1,874 1008.1,875.4 1006.8,876.5 1005.2,877.1 1003.4,877.2 1001.5,876.9 999.6,876.1 997.6,874.8 995.8,873.2 994.1,871.2 992.6,869" stroke-width="1.6"/>
<path d="M1007.4 877.7 A8.7 14.9 -30 1 0 992.6 851.9 A8.7 14.9 -30 1 0 1007.4 877.7 Z M1006.2 875.5 A6.7 12.4 -30 1 0 993.8 854.1 A6.7 12.4 -30 1 0 1006.2 875.5 Z" fill="#fff" fill-rule="evenodd" stroke-width="1.5"/>
<ellipse cx="976.5" cy="879" rx="14.5" ry="21.8" transform="rotate(-30 976.5 879)" fill="#fff" stroke-width="1.6"/>
<polygon points="983.9,899.9 987.4,897.9 965.5,860.1 962.1,862.1" fill="#fff" stroke="none"/>
<polyline points="983.9,899.9 987.4,897.9" stroke-width="1.6"/>
<polyline points="962.1,862.1 965.5,860.1" stroke-width="1.6"/>
<ellipse cx="973" cy="881" rx="14.5" ry="21.8" transform="rotate(-30 973 881)" fill="#fff" stroke-width="1.6"/>
<path d="M983.9 899.9 A14.5 21.8 -30 1 0 962.1 862.1 A14.5 21.8 -30 1 0 983.9 899.9 Z M981.7 896 A10.5 17.3 -30 1 0 964.3 866 A10.5 17.3 -30 1 0 981.7 896 Z" fill="#fff" fill-rule="evenodd" stroke-width="1.4"/>
<ellipse cx="974" cy="881" rx="6.1" ry="14.6" transform="rotate(-30 974 881)" fill="none" stroke-width="1"/>
<polygon points="948.9,880.5 950,880.9 951.1,881.4 952.2,882 953.3,882.7 954.4,883.4 955.4,884.3 956.3,885.3 957.2,886.3 958.1,887.4 958.9,888.6 959.6,889.8 960.2,891.1 960.8,892.3 961.2,893.7 961.6,895 961.9,896.3 962.1,897.6 962.1,898.9 962.1,900.1 962,901.4 961.8,902.5 961.5,903.7 961.1,904.7 960.6,905.7 960.1,906.6 959.4,907.4 958.7,908.1 957.9,908.7 957,909.2 956.1,909.7 955.1,909.9 954.1,910.1 953,910.2 951.9,910.2 950.8,910 949.7,909.7 948.6,909.3 947.5,908.8 946.4,908.2 945.3,907.5 944.2,906.8 943.2,905.9 942.3,904.9 941.4,903.9 940.5,902.8 939.7,901.6 939,900.4 938.4,899.1 937.8,897.9 937.4,896.5 937,895.2 936.7,893.9 936.5,892.6 936.5,891.3 936.5,890.1 936.6,888.8 936.8,887.7 937.1,886.5 937.5,885.5 938,884.5 938.5,883.6 939.2,882.8 939.9,882.1 940.7,881.5 941.6,881 942.5,880.5 943.5,880.3 944.5,880.1 945.3,882.9 944.5,883.1 943.7,883.3 943,883.6 942.3,884 941.7,884.5 941.2,885 940.7,885.7 940.2,886.4 939.9,887.2 939.6,888 939.4,888.9 939.2,889.9 939.1,890.8 939.2,891.8 939.2,892.9 939.4,893.9 939.6,895 940,896.1 940.3,897.1 940.8,898.2 941.3,899.2 941.9,900.2 942.5,901.1 943.2,902 943.9,902.9 944.7,903.7 945.5,904.4 946.4,905 947.2,905.6 948.1,906.1 949,906.5 949.9,906.9 950.7,907.1 951.6,907.2 952.5,907.3 953.3,907.3 954.1,907.1 954.9,906.9 955.6,906.6 956.3,906.2 956.9,905.7 957.4,905.2 957.9,904.5 958.4,903.8 958.7,903 959,902.2 959.2,901.3 959.4,900.3 959.5,899.4 959.4,898.4 959.4,897.3 959.2,896.3 959,895.2 958.6,894.1 958.3,893.1 957.8,892 957.3,891 956.7,890 956.1,889.1 955.4,888.2 954.7,887.3 953.9,886.5 953.1,885.8 952.2,885.2 951.4,884.6 950.5,884.1 949.6,883.7 948.7,883.3" fill="#fff" stroke-width="1.5"/>
<ellipse cx="924.9" cy="909" rx="12.2" ry="21.7" transform="rotate(-30 924.9 909)" fill="#fff" stroke-width="1.7"/>
<polygon points="933.1,929.3 935.7,927.8 914.1,890.2 911.5,891.7" fill="#fff" stroke="none"/>
<polyline points="933.1,929.3 935.7,927.8" stroke-width="1.7"/>
<polyline points="911.5,891.7 914.1,890.2" stroke-width="1.7"/>
<ellipse cx="922.3" cy="910.5" rx="12.2" ry="21.7" transform="rotate(-30 922.3 910.5)" fill="#fff" stroke-width="1.7"/>
<path d="M931.4 926.3 A9.2 18.2 -30 1 0 913.2 894.7 A9.2 18.2 -30 1 0 931.4 926.3 Z" fill="none" stroke-width="2.4" stroke-dasharray="0.8 1.9"/>
<path d="M930.1 924.1 A7.2 15.7 -30 1 0 914.5 896.9 A7.2 15.7 -30 1 0 930.1 924.1 Z M929.6 923.2 A6.2 14.7 -30 1 0 915 897.8 A6.2 14.7 -30 1 0 929.6 923.2 Z" fill="#fff" fill-rule="evenodd" stroke-width="1.4"/>
<polygon points="901.4,922 904.8,922 906.2,924.7 903.9,927 904.6,928.6 908.3,929.9 909.3,932.6 906.4,933.8 906.8,935.5 910.6,937.8 911,940.5 907.6,940.4 907.7,942 911.3,945.3 911.3,947.7 907.6,946.5 907.4,947.9 910.6,951.9 910,954 906.3,951.7 905.8,952.9 908.5,957.4 907.4,959 903.8,955.7 903,956.5 905,961.3 903.5,962.3 900.3,958.3 899.2,958.7 900.4,963.5 898.6,963.8 895.9,959.3 894.7,959.3 895,963.8 892.9,963.4 890.9,958.6 889.6,958.2 889,962.1 886.9,961.1 885.6,956.3 884.3,955.5 882.8,958.7 880.7,957.1 880.4,952.6 879.1,951.5 876.8,953.7 874.8,951.6 875.4,947.6 874.3,946.2 871.4,947.3 869.6,944.8 871.1,941.6 870.1,940 866.7,940 865.3,937.3 867.6,935 866.9,933.4 863.2,932.1 862.2,929.4 865.1,928.2 864.7,926.5 860.9,924.2 860.5,921.5 863.9,921.6 863.8,920 860.2,916.7 860.2,914.3 863.9,915.5 864.1,914.1 860.9,910.1 861.5,908 865.2,910.3 865.7,909.1 863,904.6 864.1,903 867.7,906.3 868.5,905.5 866.5,900.7 868,899.7 871.2,903.7 872.3,903.3 871.1,898.5 872.9,898.2 875.6,902.7 876.8,902.7 876.5,898.2 878.6,898.6 880.6,903.4 881.9,903.8 882.5,899.9 884.6,900.9 885.9,905.7 887.2,906.5 888.7,903.3 890.8,904.9 891.1,909.4 892.4,910.5 894.7,908.3 896.7,910.4 896.1,914.4 897.2,915.8 900.1,914.7 901.9,917.2 900.4,920.4" fill="#fff" stroke-width="1.3"/>
<polygon points="886.4,972.2 903.7,962.2 867.7,899.8 850.4,909.8" fill="#fff" stroke="none"/>
<polyline points="887.5,932 904.8,922" stroke-width="1.1"/>
<polyline points="888.8,934.7 906.2,924.7" stroke-width="1.1"/>
<polyline points="886.6,937 903.9,927" stroke-width="0.8"/>
<polyline points="891,939.9 908.3,929.9" stroke-width="1.1"/>
<polyline points="891.9,942.6 909.3,932.6" stroke-width="1.1"/>
<polyline points="889,943.8 906.4,933.8" stroke-width="0.8"/>
<polyline points="893.2,947.8 910.6,937.8" stroke-width="1.1"/>
<polyline points="893.7,950.5 911,940.5" stroke-width="1.1"/>
<polyline points="890.3,950.4 907.6,940.4" stroke-width="0.8"/>
<polyline points="894,955.3 911.3,945.3" stroke-width="1.1"/>
<polyline points="893.9,957.7 911.3,947.7" stroke-width="1.1"/>
<polyline points="890.3,956.5 907.6,946.5" stroke-width="0.8"/>
<polyline points="893.3,961.9 910.6,951.9" stroke-width="1.1"/>
<polyline points="892.7,964 910,954" stroke-width="1.1"/>
<polyline points="889,961.7 906.3,951.7" stroke-width="0.8"/>
<polyline points="891.2,967.4 908.5,957.4" stroke-width="1.1"/>
<polyline points="890.1,969 907.4,959" stroke-width="1.1"/>
<polyline points="886.5,965.7 903.8,955.7" stroke-width="0.8"/>
<polyline points="887.7,971.3 905,961.3" stroke-width="1.1"/>
<polyline points="886.2,972.3 903.5,962.3" stroke-width="1.1"/>
<polyline points="882.9,968.3 900.3,958.3" stroke-width="0.8"/>
<polyline points="849.2,910.7 866.5,900.7" stroke-width="1.1"/>
<polyline points="850.6,909.7 868,899.7" stroke-width="1.1"/>
<polyline points="853.9,913.7 871.2,903.7" stroke-width="0.8"/>
<polyline points="853.7,908.5 871.1,898.5" stroke-width="1.1"/>
<polyline points="855.6,908.2 872.9,898.2" stroke-width="1.1"/>
<polyline points="858.3,912.7 875.6,902.7" stroke-width="0.8"/>
<polyline points="859.2,908.2 876.5,898.2" stroke-width="1.1"/>
<polyline points="861.2,908.6 878.6,898.6" stroke-width="1.1"/>
<polyline points="863.3,913.4 880.6,903.4" stroke-width="0.8"/>
<polyline points="865.2,909.9 882.5,899.9" stroke-width="1.1"/>
<polyline points="867.3,910.9 884.6,900.9" stroke-width="1.1"/>
<polyline points="868.5,915.7 885.9,905.7" stroke-width="0.8"/>
<polyline points="871.3,913.3 888.7,903.3" stroke-width="1.1"/>
<polyline points="873.5,914.9 890.8,904.9" stroke-width="1.1"/>
<polyline points="873.8,919.4 891.1,909.4" stroke-width="0.8"/>
<polyline points="877.3,918.3 894.7,908.3" stroke-width="1.1"/>
<polyline points="879.3,920.4 896.7,910.4" stroke-width="1.1"/>
<polyline points="878.8,924.4 896.1,914.4" stroke-width="0.8"/>
<polyline points="882.8,924.7 900.1,914.7" stroke-width="1.1"/>
<polyline points="884.6,927.2 901.9,917.2" stroke-width="1.1"/>
<polyline points="883.1,930.4 900.4,920.4" stroke-width="0.8"/>
<ellipse cx="866.7" cy="942" rx="27.7" ry="48.2" transform="rotate(-30 866.7 942)" fill="#fff" stroke-width="1.6"/>
<polygon points="885.6,986.8 890.8,983.8 842.6,900.2 837.4,903.2" fill="#fff" stroke="none"/>
<polyline points="885.6,986.8 890.8,983.8" stroke-width="1.6"/>
<polyline points="837.4,903.2 842.6,900.2" stroke-width="1.6"/>
<ellipse cx="861.5" cy="945" rx="27.7" ry="48.2" transform="rotate(-30 861.5 945)" fill="#fff" stroke-width="1.6"/>
<polyline points="857.6,899 855,900.5" stroke-width="1.0"/>
<polyline points="864.6,901.8 862,903.3" stroke-width="1.0"/>
<polyline points="871.7,906.4 869.1,907.9" stroke-width="1.0"/>
<polyline points="878.6,912.5 876,914" stroke-width="1.0"/>
<polyline points="884.9,919.9 882.3,921.4" stroke-width="1.0"/>
<polyline points="890.5,928.3 887.9,929.8" stroke-width="1.0"/>
<polyline points="895,937.2 892.4,938.7" stroke-width="1.0"/>
<polyline points="898.2,946.4 895.6,947.9" stroke-width="1.0"/>
<polyline points="900.1,955.5 897.5,957" stroke-width="1.0"/>
<polyline points="900.5,963.9 897.9,965.4" stroke-width="1.0"/>
<ellipse cx="865.3" cy="944" rx="16.7" ry="29" transform="rotate(-30 865.3 944)" fill="#fff" stroke-width="1.5"/>
<polygon points="875.5,971.6 879.8,969.1 850.8,918.9 846.5,921.4" fill="#fff" stroke="none"/>
<polyline points="875.5,971.6 879.8,969.1" stroke-width="1.5"/>
<polyline points="846.5,921.4 850.8,918.9" stroke-width="1.5"/>
<ellipse cx="861" cy="946.5" rx="16.7" ry="29" transform="rotate(-30 861 946.5)" fill="#fff" stroke-width="1.5"/>
<ellipse cx="861" cy="946" rx="11.2" ry="21.6" transform="rotate(-30 861 946)" fill="#fff" stroke-width="1.6"/>
<path d="M871 963.4 A10 20.1 -30 1 0 851 928.6 A10 20.1 -30 1 0 871 963.4 Z M870.3 962.1 A8.8 18.6 -30 1 0 851.7 929.9 A8.8 18.6 -30 1 0 870.3 962.1 Z" fill="none" fill-rule="evenodd" stroke-width="1.0"/>
<polyline points="873.5,957.4 873.1,959 872.4,960.4 871.4,961.4 870.3,962.1 869,962.5 867.5,962.5 865.9,962.1 864.2,961.4 862.4,960.4 860.7,959.1 858.9,957.5 857.2,955.6 855.6,953.6 854.1,951.3 852.8,949 851.6,946.6 850.7,944.1 850,941.7 849.5,939.4 849.3,937.3 849.3,935.3 849.6,933.5 850.2,932 851,930.8" stroke-width="1.1"/>
<ellipse cx="826.6" cy="964" rx="9.5" ry="16" transform="rotate(-30 826.6 964)" fill="#fff" stroke-width="1.6"/>
<polygon points="822.5,984.9 834.6,977.9 818.6,950.1 806.5,957.1" fill="#fff" stroke="none"/>
<polyline points="822.5,984.9 834.6,977.9" stroke-width="1.6"/>
<polyline points="806.5,957.1 818.6,950.1" stroke-width="1.6"/>
<ellipse cx="814.5" cy="971" rx="9.5" ry="16" transform="rotate(-30 814.5 971)" fill="#fff" stroke-width="1.6"/>
<ellipse cx="815" cy="971.5" rx="1" ry="15.8" transform="rotate(-30 815 971.5)" fill="#fff" stroke-width="1.2"/>
<polyline points="812.4,979.4 817.6,976.4" stroke-width="0.9"/>
<polyline points="809.9,976.7 815.1,973.7" stroke-width="0.9"/>
<polyline points="807.8,973.3 813,970.3" stroke-width="0.9"/>
<polyline points="806.4,969.8 811.6,966.8" stroke-width="0.9"/>
<polyline points="805.8,966.4 811,963.4" stroke-width="0.9"/>
<polyline points="806.1,963.4 811.3,960.4" stroke-width="0.9"/>
<ellipse cx="794.5" cy="985.1" rx="13.1" ry="22.3" transform="rotate(-30 794.5 985.1)" fill="#fff" stroke-width="1.7"/>
<polygon points="803.1,1005.9 805.7,1004.4 783.3,965.8 780.7,967.3" fill="#fff" stroke="none"/>
<polyline points="803.1,1005.9 805.7,1004.4" stroke-width="1.7"/>
<polyline points="780.7,967.3 783.3,965.8" stroke-width="1.7"/>
<ellipse cx="791.9" cy="986.6" rx="13.1" ry="22.3" transform="rotate(-30 791.9 986.6)" fill="#fff" stroke-width="1.7"/>
<path d="M801.3 1002.9 A10.1 18.8 -30 1 0 782.5 970.3 A10.1 18.8 -30 1 0 801.3 1002.9 Z" fill="none" stroke-width="2.4" stroke-dasharray="0.8 1.9"/>
<path d="M800.1 1000.7 A8.1 16.3 -30 1 0 783.7 972.5 A8.1 16.3 -30 1 0 800.1 1000.7 Z M799.6 999.9 A7.1 15.3 -30 1 0 784.2 973.3 A7.1 15.3 -30 1 0 799.6 999.9 Z" fill="#fff" fill-rule="evenodd" stroke-width="1.4"/>
<ellipse cx="769.1" cy="1002.5" rx="12.8" ry="23.1" transform="rotate(-30 769.1 1002.5)" fill="#fff" stroke-width="1.6"/>
<polygon points="768.5,1029.5 780.7,1022.5 757.6,982.5 745.5,989.5" fill="#fff" stroke="none"/>
<polyline points="768.5,1029.5 780.7,1022.5" stroke-width="1.6"/>
<polyline points="745.5,989.5 757.6,982.5" stroke-width="1.6"/>
<ellipse cx="757" cy="1009.5" rx="12.8" ry="23.1" transform="rotate(-30 757 1009.5)" fill="#fff" stroke-width="1.6"/>
<path d="M768.5 1029.5 A12.8 23.1 -30 1 0 745.5 989.5 A12.8 23.1 -30 1 0 768.5 1029.5 Z M767 1026.9 A10.3 20.1 -30 1 0 747 992.1 A10.3 20.1 -30 1 0 767 1026.9 Z" fill="none" fill-rule="evenodd" stroke-width="1.1"/>
<ellipse cx="761" cy="1007" rx="7" ry="13.2" transform="rotate(-30 761 1007)" fill="#fff" stroke-width="1.4"/>
<polygon points="764.1,1020.5 767.6,1018.5 754.3,995.5 750.9,997.5" fill="#fff" stroke="none"/>
<polyline points="764.1,1020.5 767.6,1018.5" stroke-width="1.4"/>
<polyline points="750.9,997.5 754.3,995.5" stroke-width="1.4"/>
<ellipse cx="757.5" cy="1009" rx="7" ry="13.2" transform="rotate(-30 757.5 1009)" fill="#fff" stroke-width="1.4"/>
<ellipse cx="732.1" cy="1021.7" rx="13.6" ry="20.7" transform="rotate(-30 732.1 1021.7)" fill="#fff" stroke-width="1.6"/>
<polygon points="739.8,1041.1 742.4,1039.6 721.8,1003.8 719.2,1005.3" fill="#fff" stroke="none"/>
<polyline points="739.8,1041.1 742.4,1039.6" stroke-width="1.6"/>
<polyline points="719.2,1005.3 721.8,1003.8" stroke-width="1.6"/>
<ellipse cx="729.5" cy="1023.2" rx="13.6" ry="20.7" transform="rotate(-30 729.5 1023.2)" fill="#fff" stroke-width="1.6"/>
<path d="M739.8 1041.1 A13.6 20.7 -30 1 0 719.2 1005.3 A13.6 20.7 -30 1 0 739.8 1041.1 Z M737.8 1037.6 A10.1 16.7 -30 1 0 721.2 1008.8 A10.1 16.7 -30 1 0 737.8 1037.6 Z" fill="#fff" fill-rule="evenodd" stroke-width="1.6"/>
<polyline points="657.4,1008.8 659.5,1007.3 661.7,1006.1 664.1,1005.2 666.7,1004.7 669.4,1004.5 672.2,1004.7 675.1,1005.2 678.1,1006 681.1,1007.1 684.2,1008.6 687.3,1010.3 690.4,1012.4 693.5,1014.8 696.5,1017.4 699.4,1020.2 702.2,1023.3 704.9,1026.6 707.5,1030 709.9,1033.6 712.2,1037.4 714.3,1041.2 716.2,1045.2 717.8,1049.1 719.3,1053.1 720.5,1057.1 721.4,1061.1 722.1,1065 722.6,1068.8 722.7,1072.4 722.7,1076 722.3,1079.3 721.8,1082.5 720.9,1085.4 719.8,1088.2 718.5,1090.6 716.9,1092.8 715.2,1094.7 713.2,1096.3 711,1097.6 708.6,1098.5" stroke-width="3.2"/>
<path d="M652 1015 C670 1012 690 1028 700 1050 C706 1066 706 1086 700 1100 L690 1105 L660 1020 Z" fill="#fff" stroke-width="1.6"/>
<path d="M618 1016 C617 1011 620 1008 625 1007 L633 1006 L694 1041 C698 1043 699 1047 699 1051 L699 1115 C699 1121 694 1123 688 1121 L684 1120 L625 1087 C621 1085 619 1082 619 1078 Z" fill="#fff" stroke-width="1.7"/>
<polyline points="624,1019 693,1050" stroke-width="1.1"/>
<polyline points="624,1019 624,1076" stroke-width="1.1"/>
<polyline points="630,1086 692,1114" stroke-width="1.1"/>
<polyline points="692,1050 693,1114" stroke-width="1.1"/>
<polygon points="661.3,1053.2 683.7,1043.6 690.1,1055.4 670.4,1064.5" fill="#fff" stroke-width="1.3"/>
<polygon points="623.4,1074 638.9,1066 647.4,1080 631.4,1088.5" fill="#fff" stroke-width="1.3"/>
<polygon points="623.9,1019.6 631.4,1015.3 647.4,1042 641,1048.4" fill="#fff" stroke-width="1.3"/>
<polygon points="669.8,1082.6 675.2,1068.7 691.2,1102.9 684.8,1111.5" fill="#fff" stroke-width="1.3"/>
<path d="M627.8 1015.2 a2.6 3 0 1 0 1.5 4.8" fill="none" stroke-width="1.3"/>
<path d="M686.3 1046.7 a2.6 3 0 1 0 1.5 4.8" fill="none" stroke-width="1.3"/>
<path d="M631 1077.7 a2.6 3 0 1 0 1.5 4.8" fill="none" stroke-width="1.3"/>
<path d="M686.6 1108.7 a2.6 3 0 1 0 1.5 4.8" fill="none" stroke-width="1.3"/>
<ellipse cx="655.4" cy="1066" rx="10.8" ry="21.9" transform="rotate(-30 655.4 1066)" fill="#fff" stroke-width="1.7"/>
<ellipse cx="656.1" cy="1065.8" rx="8.4" ry="18.1" transform="rotate(-30 656.1 1065.8)" fill="#fff" stroke-width="1.3"/>
<polyline points="662.3,1078.6 661.4,1078.7 660.5,1078.6 659.5,1078.4 658.5,1078.1 657.5,1077.6 656.4,1077 655.4,1076.2 654.4,1075.3 653.4,1074.3 652.4,1073.2 651.5,1072 650.6,1070.8 649.9,1069.5 649.1,1068.1 648.5,1066.8 648,1065.4 647.6,1064 647.3,1062.6 647.1,1061.3 647,1060.1 647,1058.9 647.1,1057.8 647.3,1056.8 647.7,1055.9" stroke-width="1.1"/>
<polyline points="662.2,1076.7 661.5,1076.6 660.7,1076.3 659.9,1076 659.1,1075.6 658.3,1075 657.5,1074.4 656.7,1073.7 655.9,1073 655.1,1072.1 654.4,1071.2 653.6,1070.2 653,1069.2 652.3,1068.2 651.7,1067.1 651.2,1066 650.7,1064.9 650.3,1063.8 650,1062.7 649.7,1061.6 649.6,1060.6 649.4,1059.6 649.4,1058.6 649.4,1057.7 649.6,1056.9" stroke-width="1.0"/>
<ellipse cx="605.3" cy="1094.5" rx="17.1" ry="20.9" transform="rotate(-30 605.3 1094.5)" fill="#fff" stroke-width="1.7"/>
<polygon points="611.4,1115.1 615.8,1112.6 594.9,1076.4 590.6,1078.9" fill="#fff" stroke="none"/>
<polyline points="611.4,1115.1 615.8,1112.6" stroke-width="1.7"/>
<polyline points="590.6,1078.9 594.9,1076.4" stroke-width="1.7"/>
<ellipse cx="601" cy="1097" rx="17.1" ry="20.9" transform="rotate(-30 601 1097)" fill="#fff" stroke-width="1.7"/>
<path d="M611.4 1115.1 A17.1 20.9 -30 1 0 590.6 1078.9 A17.1 20.9 -30 1 0 611.4 1115.1 Z M608.9 1110.8 A12.6 15.9 -30 1 0 593.1 1083.2 A12.6 15.9 -30 1 0 608.9 1110.8 Z" fill="#fff" fill-rule="evenodd" stroke-width="1.6"/>
<ellipse cx="600" cy="1097" rx="6" ry="12.2" transform="rotate(-30 600 1097)" fill="none" stroke-width="1"/>
<ellipse cx="606" cy="1032.5" rx="6" ry="5.8" transform="rotate(-30 606 1032.5)" fill="#fff" stroke-width="1.5"/>
<ellipse cx="606" cy="1032.5" rx="2.2" ry="3.2" transform="rotate(-30 606 1032.5)" fill="#fff" stroke-width="1.1"/>
<polygon points="583,1043 597,1035 600,1041 586,1049" fill="#fff" stroke-width="1.3"/>
<polyline points="586,1042.5 589,1048" stroke-width="1.0"/>
<polyline points="588.8,1040.9 591.8,1046.4" stroke-width="1.0"/>
<polyline points="591.6,1039.3 594.6,1044.8" stroke-width="1.0"/>
<polyline points="594.4,1037.7 597.4,1043.2" stroke-width="1.0"/>
<polyline points="597.2,1036.1 600.2,1041.6" stroke-width="1.0"/>
<ellipse cx="584.6" cy="1045" rx="4.5" ry="6.5" transform="rotate(-30 584.6 1045)" fill="#fff" stroke-width="1.5"/>
<polygon points="581.8,1054.1 587.8,1050.6 581.3,1039.4 575.2,1042.9" fill="#fff" stroke="none"/>
<polyline points="581.8,1054.1 587.8,1050.6" stroke-width="1.5"/>
<polyline points="575.2,1042.9 581.3,1039.4" stroke-width="1.5"/>
<ellipse cx="578.5" cy="1048.5" rx="4.5" ry="6.5" transform="rotate(-30 578.5 1048.5)" fill="#fff" stroke-width="1.5"/>
<ellipse cx="578.5" cy="1048.5" rx="4.3" ry="6.4" transform="rotate(-28 578.5 1048.5)" fill="none" stroke-width="1.0"/>
<polyline points="614.8,1027.6 628.6,1020.7" stroke-width="1.2"/>
<g stroke-width="1.3">
<polyline points="242,216 277,216"/>
<polyline points="242,282 287,285"/>
<polyline points="242,328 289,324"/>
<polyline points="242,386 299,386"/>
<polyline points="242,443.4 298.2,434.4"/>
<polyline points="245.4,491.8 306.5,474"/>
<polyline points="247,545 308.8,515.2"/>
<polyline points="507.8,574.9 547,610.2"/>
<polyline points="502.5,239.3 518.5,272.3"/>
<polyline points="568.4,200 572.3,210.8"/>
<polyline points="612,175.2 626.2,213.5"/>
<polyline points="645.8,150.3 655.6,192"/>
<polyline points="673.6,126.5 683,187.6"/>
<polyline points="707.4,109.8 710.4,159.7"/>
<polyline points="747.3,88.6 744.8,146"/>
<polyline points="787.2,63.7 787.2,99.8"/>
<polyline points="929.5,45.3 912.4,72"/>
<polyline points="970.3,174.3 1029.2,205.2"/>
<polyline points="945.6,187.4 999.9,217.3"/>
<polyline points="919,204.6 974,239.8"/>
<polyline points="888.6,221 918,242.6"/>
<polyline points="842.5,245.4 871.5,273.8"/>
<polyline points="605.3,395 620,419"/>
<polyline points="633.4,369.5 642.7,404.2"/>
<polyline points="1050.7,420 1056.4,475.5"/>
<polyline points="1030.7,486.9 1018,435.6"/>
<polyline points="1030.7,486.9 1028,431.3"/>
<polyline points="1030.7,486.9 1036.4,420"/>
<polyline points="998,452.7 1004.5,506.8"/>
<polyline points="975.7,493.4 975.7,525.3"/>
<polyline points="948,507.7 948.7,535.3"/>
<polyline points="863.2,568.7 870.7,588.6"/>
<polyline points="772.2,614.8 792,628.5"/>
<polyline points="746,631 763.5,643.5"/>
<polyline points="702.4,631 736,656"/>
<polyline points="854.5,654.7 895.6,669.6"/>
<polyline points="146.5,838.4 158,891"/>
<polyline points="185.4,817 195.9,866.4"/>
<polyline points="221.6,802 237,843.3"/>
<polyline points="243.7,785.7 253.6,831.8"/>
<polyline points="482.5,739.5 547,702"/>
<polyline points="1015,878.4 1045.5,925.4"/>
<polyline points="988,898 1012,937.5"/>
<polyline points="959.2,908.7 980.4,957.2"/>
<polyline points="933.4,930 948.6,979.9"/>
<polyline points="895.6,975.3 912.2,999.5"/>
<polyline points="832,981.4 866.8,1022.2"/>
<polyline points="806.3,1002.6 842.6,1040.4"/>
<polyline points="773,1023.8 792.7,1067.7"/>
<polyline points="741.2,1042.3 760.8,1089.3"/>
<polyline points="722.6,1081.4 731.4,1106.9"/>
<polyline points="695.2,1118.7 699,1126.5"/>
<polyline points="617.8,1113.8 658,1143"/>
<polyline points="581.5,1009 589.4,1038.4"/>
<polyline points="604.7,989.4 605.4,1026.6"/>
<polyline points="567.3,1157.2 558.3,1183"/>
<polyline points="509.8,1164.8 512.2,1199.6"/>
<polyline points="577.9,1213.2 588,1240.5"/>
<polyline points="599.1,1201.1 614.3,1223.8"/>
<polyline points="615.8,1186 637,1207.2"/>
<polyline points="317,1285 347.7,1297.5"/>
<polyline points="295.6,1299.4 313,1312.2"/>
<polyline points="497.7,1243.5 500,1257"/>
<polyline points="522,1225.3 522,1233"/>
<polyline points="527,292 490,314" stroke-width="1.3"/>
<polyline points="640,451.5 602,473.5" stroke-width="1.3"/>
<polyline points="163.6,930 132.9,948.6" stroke-width="1.3"/>
<polyline points="577.1,1133.6 600,1146" stroke-width="1.3"/>
<polyline points="604,1148 635.9,1165.9 622.2,1175.7" stroke-width="1.3"/>
<polyline points="466,1196.6 476,1253.2 547.7,1207.2" stroke-width="1.3"/>
<polygon points="820.8,668.4 832,662.2 859.5,675.9 849.5,683.4" fill="#fff" stroke-width="1.3"/>
<ellipse cx="829" cy="668" rx="2" ry="1.5" fill="#fff" stroke-width="1"/>
<polyline points="850.7,663.4 850.7,679.6" stroke-width="1.1" stroke-dasharray="3 2"/>
<polygon points="847,651 854.5,651 854.5,660 851,662 847,660" fill="#fff" stroke-width="1.3"/>
<ellipse cx="850.5" cy="646.5" rx="6.5" ry="5.5" fill="#fff" stroke-width="1.5"/>
<polyline points="844,648 857,648" stroke-width="1.1"/>
</g>
</g>
<g>
<text transform="translate(224.2 224.0) scale(1.350 0.967)">3</text>
<text transform="translate(223.6 290.0) scale(1.400 1.067)">8</text>
<text transform="translate(225.0 340.0) scale(1.167 1.067)">4</text>
<text transform="translate(223.6 396.0) scale(1.400 1.067)">7</text>
<text transform="translate(209.7 453.0) scale(1.261 1.067)">39</text>
<text transform="translate(223.7 501.0) scale(1.273 1.000)">5</text>
<text transform="translate(223.6 554.0) scale(1.400 1.000)">6</text>
<text transform="translate(496.2 575.0) scale(0.889 1.000)">1</text>
<text transform="translate(483.8 236.0) scale(1.174 1.000)">21</text>
<text transform="translate(550.8 197.0) scale(1.174 1.000)">22</text>
<text transform="translate(593.8 173.0) scale(1.217 1.067)">23</text>
<text transform="translate(628.7 148.0) scale(1.261 1.067)">24</text>
<text transform="translate(659.0 125.0) scale(1.167 1.000)">40</text>
<text transform="translate(689.7 110.0) scale(1.261 1.000)">25</text>
<text transform="translate(732.0 84.0) scale(1.125 1.000)">41</text>
<text transform="translate(772.8 62.0) scale(1.174 1.000)">38</text>
<text transform="translate(916.1 42.6) scale(1.226 1.107)">SEE FIG. 3-1</text>
<text transform="translate(940.8 175.0) scale(1.217 1.000)">20</text>
<text transform="translate(914.6 190.0) scale(1.182 1.000)">19</text>
<text transform="translate(885.5 209.0) scale(1.227 1.067)">13</text>
<text transform="translate(856.5 224.0) scale(1.227 1.000)">18</text>
<text transform="translate(817.5 244.0) scale(1.227 1.000)">17</text>
<text transform="translate(617.5 367.0) scale(1.227 1.000)">16</text>
<text transform="translate(585.6 388.0) scale(1.182 1.000)">15</text>
<text transform="translate(1043.8 491.0) scale(1.239 1.000)">37</text>
<text transform="translate(1019.6 510.0) scale(1.205 1.000)">14</text>
<text transform="translate(992.5 524.5) scale(1.227 1.000)">12</text>
<text transform="translate(963.6 544.6) scale(1.182 1.073)">10</text>
<text transform="translate(934.6 558.6) scale(1.200 1.000)">11</text>
<text transform="translate(864.1 604.7) scale(1.350 1.007)">9</text>
<text transform="translate(788.5 643.7) scale(1.250 1.000)">11</text>
<text transform="translate(761.5 658.8) scale(1.245 1.073)">10</text>
<text transform="translate(736.6 672.0) scale(1.200 1.000)">11</text>
<text transform="translate(899.7 678.8) scale(1.300 1.000)">2</text>
<text transform="translate(228.5 786.0) scale(1.227 1.000)">15</text>
<text transform="translate(198.5 799.0) scale(1.273 1.000)">16</text>
<text transform="translate(167.5 816.0) scale(1.273 1.000)">17</text>
<text transform="translate(131.5 837.0) scale(1.227 1.000)">18</text>
<text transform="translate(1036.1 938.0) scale(1.205 1.000)">13</text>
<text transform="translate(1006.0 958.6) scale(1.209 1.000)">19</text>
<text transform="translate(971.7 980.0) scale(1.261 1.000)">20</text>
<text transform="translate(939.8 1000.0) scale(1.174 1.000)">21</text>
<text transform="translate(907.8 1019.7) scale(1.200 1.067)">22</text>
<text transform="translate(865.3 1041.0) scale(1.239 1.040)">23</text>
<text transform="translate(836.2 1059.8) scale(1.261 1.027)">24</text>
<text transform="translate(785.2 1088.8) scale(1.200 1.053)">25</text>
<text transform="translate(753.0 1111.0) scale(1.071 1.100)">41</text>
<text transform="translate(588.8 985.0) scale(1.248 1.000)">36</text>
<text transform="translate(561.4 1005.0) scale(1.235 1.000)">35</text>
<text transform="translate(721.8 1130.5) scale(1.174 1.067)">34</text>
<text transform="translate(690.8 1147.0) scale(1.217 1.000)">32</text>
<text transform="translate(658.8 1162.0) scale(1.217 1.000)">33</text>
<text transform="translate(533.4 1202.0) scale(1.217 1.000)">27</text>
<text transform="translate(496.8 1220.0) scale(1.217 1.067)">27</text>
<text transform="translate(630.8 1227.0) scale(1.239 1.000)">29</text>
<text transform="translate(603.5 1244.0) scale(1.230 1.000)">30</text>
<text transform="translate(574.8 1260.6) scale(1.174 1.120)">31</text>
<text transform="translate(487.8 1279.0) scale(1.217 1.120)">26</text>
<text transform="translate(346.7 1314.0) scale(1.304 1.120)">28</text>
<text transform="translate(311.4 1332.6) scale(1.235 1.120)">28</text>
</g>
</svg></body></html>
